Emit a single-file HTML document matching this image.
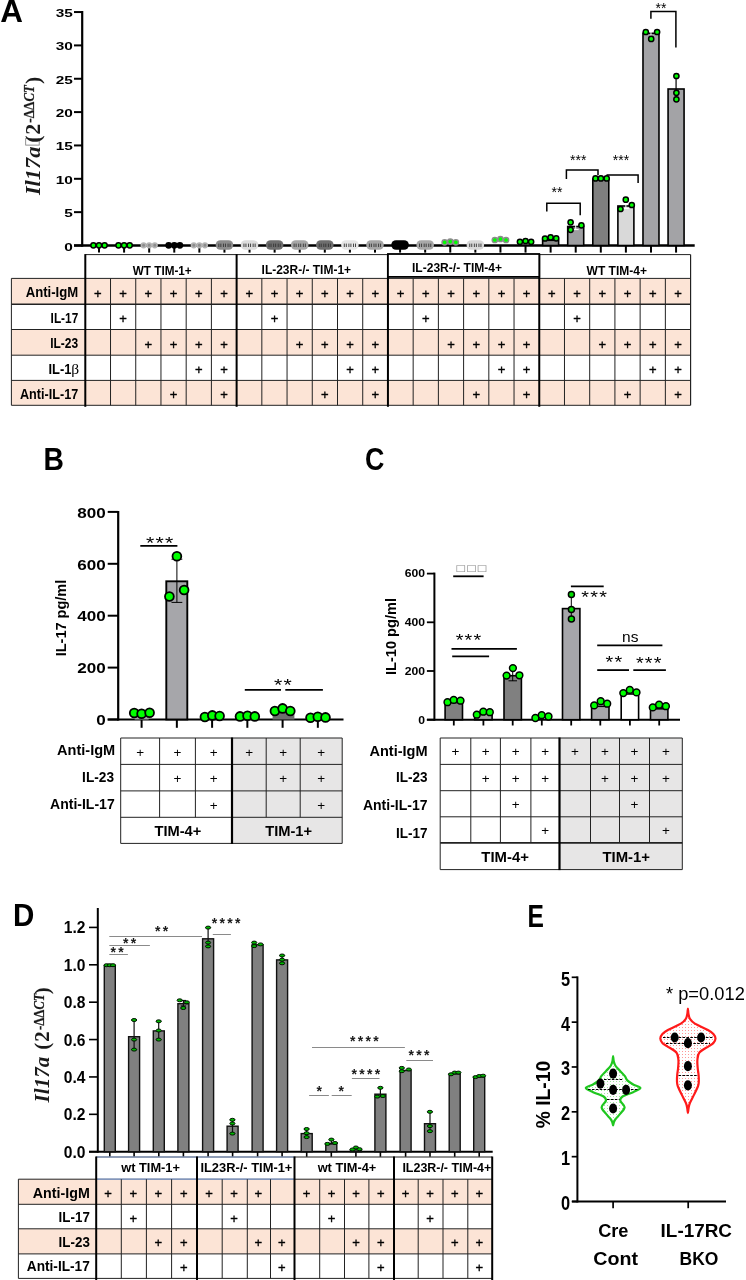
<!DOCTYPE html>
<html><head><meta charset="utf-8"><title>Figure</title>
<style>html,body{margin:0;padding:0;background:#fff}svg{display:block}</style>
</head><body>
<svg width="746" height="1280" viewBox="0 0 746 1280">
<rect width="746" height="1280" fill="#fff"/>
<g id="panelA">
<text transform="translate(0.3,22)" font-family='"Liberation Sans", Arial, sans-serif' font-size="31.4" text-anchor="start" font-weight="bold" fill="#000">A</text>
<g transform="translate(39.7,195.1) rotate(-90)" font-family='"Liberation Serif", "DejaVu Serif", serif' font-weight="bold" font-style="italic" fill="#1a1a1a">
<text x="0" y="0" font-size="21.5" textLength="48.5" lengthAdjust="spacingAndGlyphs">Il17a</text>
<rect x="50" y="-14" width="6.5" height="13.5" fill="none" stroke="#777" stroke-width="0.8"/>
<text x="52.3" y="0" font-size="22" font-style="normal">(</text>
<text x="60.3" y="0" font-size="22" font-style="normal">2</text>
<text transform="translate(72.4,-6) scale(0.93,1)" font-size="14.2" font-style="normal" stroke="#1a1a1a" stroke-width="0.25">-ΔΔ</text>
<text transform="translate(93.6,-6) scale(0.9,1)" font-size="14.2" stroke="#1a1a1a" stroke-width="0.25">CT</text>
<text x="111" y="0" font-size="22" font-style="normal">)</text>
</g>
<line x1="82.2" y1="11" x2="82.2" y2="246.7" stroke="#000" stroke-width="2.2" />
<line x1="74" y1="245.5" x2="694.7" y2="245.5" stroke="#000" stroke-width="2.4" />
<line x1="74" y1="245.5" x2="82.2" y2="245.5" stroke="#000" stroke-width="2" />
<text transform="translate(72.8,250.5) scale(1.33,1)" font-family='"Liberation Sans", Arial, sans-serif' font-size="11.6" text-anchor="end" font-weight="bold" fill="#000">0</text>
<line x1="74" y1="212.15" x2="82.2" y2="212.15" stroke="#000" stroke-width="2" />
<text transform="translate(72.8,217.15) scale(1.33,1)" font-family='"Liberation Sans", Arial, sans-serif' font-size="11.6" text-anchor="end" font-weight="bold" fill="#000">5</text>
<line x1="74" y1="178.8" x2="82.2" y2="178.8" stroke="#000" stroke-width="2" />
<text transform="translate(72.8,183.8) scale(1.33,1)" font-family='"Liberation Sans", Arial, sans-serif' font-size="11.6" text-anchor="end" font-weight="bold" fill="#000">10</text>
<line x1="74" y1="145.45" x2="82.2" y2="145.45" stroke="#000" stroke-width="2" />
<text transform="translate(72.8,150.45) scale(1.33,1)" font-family='"Liberation Sans", Arial, sans-serif' font-size="11.6" text-anchor="end" font-weight="bold" fill="#000">15</text>
<line x1="74" y1="112.1" x2="82.2" y2="112.1" stroke="#000" stroke-width="2" />
<text transform="translate(72.8,117.1) scale(1.33,1)" font-family='"Liberation Sans", Arial, sans-serif' font-size="11.6" text-anchor="end" font-weight="bold" fill="#000">20</text>
<line x1="74" y1="78.75" x2="82.2" y2="78.75" stroke="#000" stroke-width="2" />
<text transform="translate(72.8,83.75) scale(1.33,1)" font-family='"Liberation Sans", Arial, sans-serif' font-size="11.6" text-anchor="end" font-weight="bold" fill="#000">25</text>
<line x1="74" y1="45.4" x2="82.2" y2="45.4" stroke="#000" stroke-width="2" />
<text transform="translate(72.8,50.4) scale(1.33,1)" font-family='"Liberation Sans", Arial, sans-serif' font-size="11.6" text-anchor="end" font-weight="bold" fill="#000">30</text>
<line x1="74" y1="12.05" x2="82.2" y2="12.05" stroke="#000" stroke-width="2" />
<text transform="translate(72.8,17.05) scale(1.33,1)" font-family='"Liberation Sans", Arial, sans-serif' font-size="11.6" text-anchor="end" font-weight="bold" fill="#000">35</text>
<line x1="99" y1="245.5" x2="99" y2="252.6" stroke="#000" stroke-width="2" />
<line x1="124.09" y1="245.5" x2="124.09" y2="252.6" stroke="#000" stroke-width="2" />
<line x1="149.18" y1="245.5" x2="149.18" y2="252.6" stroke="#000" stroke-width="2" />
<line x1="174.27" y1="245.5" x2="174.27" y2="252.6" stroke="#000" stroke-width="2" />
<line x1="199.36" y1="245.5" x2="199.36" y2="252.6" stroke="#000" stroke-width="2" />
<line x1="224.45" y1="245.5" x2="224.45" y2="252.6" stroke="#000" stroke-width="2" />
<line x1="249.54" y1="245.5" x2="249.54" y2="252.6" stroke="#000" stroke-width="2" />
<line x1="274.63" y1="245.5" x2="274.63" y2="252.6" stroke="#000" stroke-width="2" />
<line x1="299.72" y1="245.5" x2="299.72" y2="252.6" stroke="#000" stroke-width="2" />
<line x1="324.81" y1="245.5" x2="324.81" y2="252.6" stroke="#000" stroke-width="2" />
<line x1="349.9" y1="245.5" x2="349.9" y2="252.6" stroke="#000" stroke-width="2" />
<line x1="374.99" y1="245.5" x2="374.99" y2="252.6" stroke="#000" stroke-width="2" />
<line x1="400.08" y1="245.5" x2="400.08" y2="252.6" stroke="#000" stroke-width="2" />
<line x1="425.17" y1="245.5" x2="425.17" y2="252.6" stroke="#000" stroke-width="2" />
<line x1="450.26" y1="245.5" x2="450.26" y2="252.6" stroke="#000" stroke-width="2" />
<line x1="475.35" y1="245.5" x2="475.35" y2="252.6" stroke="#000" stroke-width="2" />
<line x1="500.44" y1="245.5" x2="500.44" y2="252.6" stroke="#000" stroke-width="2" />
<line x1="525.53" y1="245.5" x2="525.53" y2="252.6" stroke="#000" stroke-width="2" />
<line x1="550.62" y1="245.5" x2="550.62" y2="252.6" stroke="#000" stroke-width="2" />
<line x1="575.71" y1="245.5" x2="575.71" y2="252.6" stroke="#000" stroke-width="2" />
<line x1="600.8" y1="245.5" x2="600.8" y2="252.6" stroke="#000" stroke-width="2" />
<line x1="625.89" y1="245.5" x2="625.89" y2="252.6" stroke="#000" stroke-width="2" />
<line x1="650.98" y1="245.5" x2="650.98" y2="252.6" stroke="#000" stroke-width="2" />
<line x1="676.07" y1="245.5" x2="676.07" y2="252.6" stroke="#000" stroke-width="2" />
<rect x="542.62" y="240.3" width="16" height="5.2" fill="#8a8a8a" stroke="#000" stroke-width="1.6" />
<rect x="567.71" y="226.5" width="16" height="19" fill="#9d9da0" stroke="#000" stroke-width="1.6" />
<rect x="592.8" y="178.9" width="16" height="66.6" fill="#7f7f7f" stroke="#000" stroke-width="1.6" />
<rect x="617.89" y="206" width="16" height="39.5" fill="#d9d9d9" stroke="#000" stroke-width="1.6" />
<rect x="642.98" y="33.3" width="16" height="212.2" fill="#a3a3a6" stroke="#000" stroke-width="1.6" />
<rect x="668.07" y="89" width="16" height="156.5" fill="#a3a3a6" stroke="#000" stroke-width="1.6" />
<line x1="575.71" y1="222.3" x2="575.71" y2="229.8" stroke="#fff" stroke-width="1" />
<line x1="572.71" y1="222.5" x2="578.71" y2="222.5" stroke="#fff" stroke-width="1" />
<line x1="572.71" y1="229.6" x2="578.71" y2="229.6" stroke="#fff" stroke-width="1" />
<line x1="625.89" y1="199.7" x2="625.89" y2="209" stroke="#fff" stroke-width="1" />
<line x1="622.89" y1="200" x2="628.89" y2="200" stroke="#fff" stroke-width="1" />
<line x1="622.89" y1="208.6" x2="628.89" y2="208.6" stroke="#fff" stroke-width="1" />
<line x1="650.98" y1="31" x2="650.98" y2="36" stroke="#fff" stroke-width="1" />
<line x1="676.07" y1="76" x2="676.07" y2="99" stroke="#000" stroke-width="1.2" />
<rect x="215.65" y="240.2" width="17.6" height="9.6" fill="#8c8c8c" stroke="none" stroke-width="0" rx="4.8"/>
<line x1="218.85" y1="243.6" x2="218.85" y2="247" stroke="#333" stroke-width="0.9" />
<line x1="220.85" y1="243.6" x2="220.85" y2="247" stroke="#333" stroke-width="0.9" />
<line x1="223.45" y1="243.6" x2="223.45" y2="247" stroke="#333" stroke-width="0.9" />
<line x1="225.45" y1="243.6" x2="225.45" y2="247" stroke="#333" stroke-width="0.9" />
<line x1="228.05" y1="243.6" x2="228.05" y2="247" stroke="#333" stroke-width="0.9" />
<line x1="230.05" y1="243.6" x2="230.05" y2="247" stroke="#333" stroke-width="0.9" />
<rect x="240.74" y="240.2" width="17.6" height="9.6" fill="#dcdcdc" stroke="none" stroke-width="0" rx="4.8"/>
<line x1="243.94" y1="243.6" x2="243.94" y2="247" stroke="#333" stroke-width="0.9" />
<line x1="245.94" y1="243.6" x2="245.94" y2="247" stroke="#333" stroke-width="0.9" />
<line x1="248.54" y1="243.6" x2="248.54" y2="247" stroke="#333" stroke-width="0.9" />
<line x1="250.54" y1="243.6" x2="250.54" y2="247" stroke="#333" stroke-width="0.9" />
<line x1="253.14" y1="243.6" x2="253.14" y2="247" stroke="#333" stroke-width="0.9" />
<line x1="255.14" y1="243.6" x2="255.14" y2="247" stroke="#333" stroke-width="0.9" />
<rect x="265.83" y="240.2" width="17.6" height="9.6" fill="#6e6e6e" stroke="none" stroke-width="0" rx="4.8"/>
<line x1="269.03" y1="243.6" x2="269.03" y2="247" stroke="#333" stroke-width="0.9" />
<line x1="271.03" y1="243.6" x2="271.03" y2="247" stroke="#333" stroke-width="0.9" />
<line x1="273.63" y1="243.6" x2="273.63" y2="247" stroke="#333" stroke-width="0.9" />
<line x1="275.63" y1="243.6" x2="275.63" y2="247" stroke="#333" stroke-width="0.9" />
<line x1="278.23" y1="243.6" x2="278.23" y2="247" stroke="#333" stroke-width="0.9" />
<line x1="280.23" y1="243.6" x2="280.23" y2="247" stroke="#333" stroke-width="0.9" />
<rect x="290.92" y="240.2" width="17.6" height="9.6" fill="#a6a6a6" stroke="none" stroke-width="0" rx="4.8"/>
<line x1="294.12" y1="243.6" x2="294.12" y2="247" stroke="#333" stroke-width="0.9" />
<line x1="296.12" y1="243.6" x2="296.12" y2="247" stroke="#333" stroke-width="0.9" />
<line x1="298.72" y1="243.6" x2="298.72" y2="247" stroke="#333" stroke-width="0.9" />
<line x1="300.72" y1="243.6" x2="300.72" y2="247" stroke="#333" stroke-width="0.9" />
<line x1="303.32" y1="243.6" x2="303.32" y2="247" stroke="#333" stroke-width="0.9" />
<line x1="305.32" y1="243.6" x2="305.32" y2="247" stroke="#333" stroke-width="0.9" />
<rect x="316.01" y="240.2" width="17.6" height="9.6" fill="#6e6e6e" stroke="none" stroke-width="0" rx="4.8"/>
<line x1="319.21" y1="243.6" x2="319.21" y2="247" stroke="#333" stroke-width="0.9" />
<line x1="321.21" y1="243.6" x2="321.21" y2="247" stroke="#333" stroke-width="0.9" />
<line x1="323.81" y1="243.6" x2="323.81" y2="247" stroke="#333" stroke-width="0.9" />
<line x1="325.81" y1="243.6" x2="325.81" y2="247" stroke="#333" stroke-width="0.9" />
<line x1="328.41" y1="243.6" x2="328.41" y2="247" stroke="#333" stroke-width="0.9" />
<line x1="330.41" y1="243.6" x2="330.41" y2="247" stroke="#333" stroke-width="0.9" />
<rect x="341.1" y="240.2" width="17.6" height="9.6" fill="#e6e6e6" stroke="none" stroke-width="0" rx="4.8"/>
<line x1="344.3" y1="243.6" x2="344.3" y2="247" stroke="#333" stroke-width="0.9" />
<line x1="346.3" y1="243.6" x2="346.3" y2="247" stroke="#333" stroke-width="0.9" />
<line x1="348.9" y1="243.6" x2="348.9" y2="247" stroke="#333" stroke-width="0.9" />
<line x1="350.9" y1="243.6" x2="350.9" y2="247" stroke="#333" stroke-width="0.9" />
<line x1="353.5" y1="243.6" x2="353.5" y2="247" stroke="#333" stroke-width="0.9" />
<line x1="355.5" y1="243.6" x2="355.5" y2="247" stroke="#333" stroke-width="0.9" />
<rect x="366.19" y="240.2" width="17.6" height="9.6" fill="#a6a6a6" stroke="none" stroke-width="0" rx="4.8"/>
<line x1="369.39" y1="243.6" x2="369.39" y2="247" stroke="#333" stroke-width="0.9" />
<line x1="371.39" y1="243.6" x2="371.39" y2="247" stroke="#333" stroke-width="0.9" />
<line x1="373.99" y1="243.6" x2="373.99" y2="247" stroke="#333" stroke-width="0.9" />
<line x1="375.99" y1="243.6" x2="375.99" y2="247" stroke="#333" stroke-width="0.9" />
<line x1="378.59" y1="243.6" x2="378.59" y2="247" stroke="#333" stroke-width="0.9" />
<line x1="380.59" y1="243.6" x2="380.59" y2="247" stroke="#333" stroke-width="0.9" />
<rect x="391.28" y="240.2" width="17.6" height="9.6" fill="#000" stroke="none" stroke-width="0" rx="4.8"/>
<line x1="394.48" y1="243.6" x2="394.48" y2="247" stroke="#000" stroke-width="0.9" />
<line x1="396.48" y1="243.6" x2="396.48" y2="247" stroke="#000" stroke-width="0.9" />
<line x1="399.08" y1="243.6" x2="399.08" y2="247" stroke="#000" stroke-width="0.9" />
<line x1="401.08" y1="243.6" x2="401.08" y2="247" stroke="#000" stroke-width="0.9" />
<line x1="403.68" y1="243.6" x2="403.68" y2="247" stroke="#000" stroke-width="0.9" />
<line x1="405.68" y1="243.6" x2="405.68" y2="247" stroke="#000" stroke-width="0.9" />
<rect x="416.37" y="240.2" width="17.6" height="9.6" fill="#a8a8a8" stroke="none" stroke-width="0" rx="4.8"/>
<line x1="419.57" y1="243.6" x2="419.57" y2="247" stroke="#333" stroke-width="0.9" />
<line x1="421.57" y1="243.6" x2="421.57" y2="247" stroke="#333" stroke-width="0.9" />
<line x1="424.17" y1="243.6" x2="424.17" y2="247" stroke="#333" stroke-width="0.9" />
<line x1="426.17" y1="243.6" x2="426.17" y2="247" stroke="#333" stroke-width="0.9" />
<line x1="428.77" y1="243.6" x2="428.77" y2="247" stroke="#333" stroke-width="0.9" />
<line x1="430.77" y1="243.6" x2="430.77" y2="247" stroke="#333" stroke-width="0.9" />
<rect x="466.55" y="240.2" width="17.6" height="9.6" fill="#d9d9d9" stroke="none" stroke-width="0" rx="4.8"/>
<line x1="469.75" y1="243.6" x2="469.75" y2="247" stroke="#333" stroke-width="0.9" />
<line x1="471.75" y1="243.6" x2="471.75" y2="247" stroke="#333" stroke-width="0.9" />
<line x1="474.35" y1="243.6" x2="474.35" y2="247" stroke="#333" stroke-width="0.9" />
<line x1="476.35" y1="243.6" x2="476.35" y2="247" stroke="#333" stroke-width="0.9" />
<line x1="478.95" y1="243.6" x2="478.95" y2="247" stroke="#333" stroke-width="0.9" />
<line x1="480.95" y1="243.6" x2="480.95" y2="247" stroke="#333" stroke-width="0.9" />
<circle cx="93.4" cy="245.3" r="2.6" fill="#00ff00" stroke="#000" stroke-width="1.5"/>
<circle cx="99" cy="245.3" r="2.6" fill="#00ff00" stroke="#000" stroke-width="1.5"/>
<circle cx="104.6" cy="245.3" r="2.6" fill="#00ff00" stroke="#000" stroke-width="1.5"/>
<circle cx="118.49" cy="245.3" r="2.6" fill="#00ff00" stroke="#000" stroke-width="1.5"/>
<circle cx="124.09" cy="245.3" r="2.6" fill="#00ff00" stroke="#000" stroke-width="1.5"/>
<circle cx="129.69" cy="245.3" r="2.6" fill="#00ff00" stroke="#000" stroke-width="1.5"/>
<circle cx="143.58" cy="245.3" r="2.3" fill="#8c8c8c" stroke="#b4b4b4" stroke-width="1.6"/>
<circle cx="149.18" cy="245.3" r="2.3" fill="#8c8c8c" stroke="#b4b4b4" stroke-width="1.6"/>
<circle cx="154.78" cy="245.3" r="2.3" fill="#8c8c8c" stroke="#b4b4b4" stroke-width="1.6"/>
<circle cx="168.67" cy="245.3" r="2.6" fill="#000" stroke="#000" stroke-width="1.6"/>
<circle cx="174.27" cy="245.3" r="2.6" fill="#000" stroke="#000" stroke-width="1.6"/>
<circle cx="179.87" cy="245.3" r="2.6" fill="#000" stroke="#000" stroke-width="1.6"/>
<circle cx="193.76" cy="245.3" r="2.3" fill="#8c8c8c" stroke="#b4b4b4" stroke-width="1.6"/>
<circle cx="199.36" cy="245.3" r="2.3" fill="#8c8c8c" stroke="#b4b4b4" stroke-width="1.6"/>
<circle cx="204.96" cy="245.3" r="2.3" fill="#8c8c8c" stroke="#b4b4b4" stroke-width="1.6"/>
<circle cx="444.66" cy="242.3" r="2.6" fill="#00ff00" stroke="#8c8c8c" stroke-width="1.5"/>
<circle cx="450.26" cy="241.6" r="2.6" fill="#00ff00" stroke="#8c8c8c" stroke-width="1.5"/>
<circle cx="455.86" cy="242.3" r="2.6" fill="#00ff00" stroke="#8c8c8c" stroke-width="1.5"/>
<circle cx="494.84" cy="240" r="2.6" fill="#00ff00" stroke="#8c8c8c" stroke-width="1.5"/>
<circle cx="500.44" cy="239" r="2.6" fill="#00ff00" stroke="#8c8c8c" stroke-width="1.5"/>
<circle cx="506.04" cy="240" r="2.6" fill="#00ff00" stroke="#8c8c8c" stroke-width="1.5"/>
<circle cx="519.93" cy="241.8" r="2.6" fill="#00ff00" stroke="#000" stroke-width="1.5"/>
<circle cx="525.53" cy="241" r="2.6" fill="#00ff00" stroke="#000" stroke-width="1.5"/>
<circle cx="531.13" cy="241.8" r="2.6" fill="#00ff00" stroke="#000" stroke-width="1.5"/>
<circle cx="545.02" cy="238.5" r="2.6" fill="#00ff00" stroke="#000" stroke-width="1.5"/>
<circle cx="550.62" cy="237.3" r="2.6" fill="#00ff00" stroke="#000" stroke-width="1.5"/>
<circle cx="556.22" cy="238.3" r="2.6" fill="#00ff00" stroke="#000" stroke-width="1.5"/>
<circle cx="570.6" cy="222.3" r="2.6" fill="#00ff00" stroke="#000" stroke-width="1.5"/>
<circle cx="581.4" cy="225.3" r="2.6" fill="#00ff00" stroke="#000" stroke-width="1.5"/>
<circle cx="570.6" cy="229.8" r="2.6" fill="#00ff00" stroke="#000" stroke-width="1.5"/>
<circle cx="595.5" cy="178.4" r="2.6" fill="#00ff00" stroke="#000" stroke-width="1.5"/>
<circle cx="600.9" cy="178.4" r="2.6" fill="#00ff00" stroke="#000" stroke-width="1.5"/>
<circle cx="606.7" cy="178.4" r="2.6" fill="#00ff00" stroke="#000" stroke-width="1.5"/>
<circle cx="625.8" cy="199.7" r="2.6" fill="#00ff00" stroke="#000" stroke-width="1.5"/>
<circle cx="631.8" cy="205" r="2.6" fill="#00ff00" stroke="#000" stroke-width="1.5"/>
<circle cx="620.5" cy="209" r="2.6" fill="#00ff00" stroke="#000" stroke-width="1.5"/>
<circle cx="645.8" cy="32" r="2.6" fill="#00ff00" stroke="#000" stroke-width="1.5"/>
<circle cx="657.1" cy="32" r="2.6" fill="#00ff00" stroke="#000" stroke-width="1.5"/>
<circle cx="651.2" cy="38.9" r="2.6" fill="#00ff00" stroke="#000" stroke-width="1.5"/>
<circle cx="676.4" cy="76" r="2.6" fill="#00ff00" stroke="#000" stroke-width="1.5"/>
<circle cx="676.4" cy="92.8" r="2.6" fill="#00ff00" stroke="#000" stroke-width="1.5"/>
<circle cx="676.4" cy="99.3" r="2.6" fill="#00ff00" stroke="#000" stroke-width="1.5"/>
<polyline points="546.8,211.5 546.8,203.2 580.2,203.2 580.2,215.2" fill="none" stroke="#000" stroke-width="1.5" />
<polyline points="566.4,178.9 566.4,170.1 598,170.1 598,175" fill="none" stroke="#000" stroke-width="1.5" />
<polyline points="606.5,175.1 638.1,175.1 638.1,183.1" fill="none" stroke="#000" stroke-width="1.5" />
<polyline points="650.9,18.8 650.9,11.5 675.9,11.5 675.9,47.6" fill="none" stroke="#000" stroke-width="1.5" />
<text transform="translate(556.9,197)" font-family='"Liberation Sans", Arial, sans-serif' font-size="14" text-anchor="middle" font-weight="normal" fill="#000">**</text>
<text transform="translate(578.2,165)" font-family='"Liberation Sans", Arial, sans-serif' font-size="14" text-anchor="middle" font-weight="normal" fill="#000">***</text>
<text transform="translate(621,165)" font-family='"Liberation Sans", Arial, sans-serif' font-size="14" text-anchor="middle" font-weight="normal" fill="#000">***</text>
<text transform="translate(660.9,13)" font-family='"Liberation Sans", Arial, sans-serif' font-size="14" text-anchor="middle" font-weight="normal" fill="#000">**</text>
<rect x="11.4" y="278.4" width="679.18" height="25.9" fill="#fce4d6" stroke="none" stroke-width="1" />
<rect x="11.4" y="329.5" width="679.18" height="25.7" fill="#fce4d6" stroke="none" stroke-width="1" />
<rect x="11.4" y="380.4" width="679.18" height="24.9" fill="#fce4d6" stroke="none" stroke-width="1" />
<line x1="11.4" y1="278.4" x2="690.58" y2="278.4" stroke="#222" stroke-width="1" />
<line x1="11.4" y1="304.3" x2="690.58" y2="304.3" stroke="#222" stroke-width="1.5" />
<line x1="11.4" y1="329.5" x2="690.58" y2="329.5" stroke="#222" stroke-width="1" />
<line x1="11.4" y1="355.2" x2="690.58" y2="355.2" stroke="#222" stroke-width="1" />
<line x1="11.4" y1="380.4" x2="690.58" y2="380.4" stroke="#222" stroke-width="1" />
<line x1="11.4" y1="405.3" x2="690.58" y2="405.3" stroke="#222" stroke-width="1" />
<line x1="85.3" y1="254.6" x2="690.58" y2="254.6" stroke="#222" stroke-width="1" />
<line x1="11.4" y1="278.4" x2="11.4" y2="405.3" stroke="#222" stroke-width="1" />
<line x1="85.3" y1="254.1" x2="85.3" y2="406.8" stroke="#000" stroke-width="2" />
<line x1="110.52" y1="278.4" x2="110.52" y2="405.3" stroke="#222" stroke-width="1" />
<line x1="135.74" y1="278.4" x2="135.74" y2="405.3" stroke="#222" stroke-width="1" />
<line x1="160.96" y1="278.4" x2="160.96" y2="405.3" stroke="#222" stroke-width="1" />
<line x1="186.18" y1="278.4" x2="186.18" y2="405.3" stroke="#222" stroke-width="1" />
<line x1="211.4" y1="278.4" x2="211.4" y2="405.3" stroke="#222" stroke-width="1" />
<line x1="236.62" y1="254.1" x2="236.62" y2="406.8" stroke="#000" stroke-width="2" />
<line x1="261.84" y1="278.4" x2="261.84" y2="405.3" stroke="#222" stroke-width="1" />
<line x1="287.06" y1="278.4" x2="287.06" y2="405.3" stroke="#222" stroke-width="1" />
<line x1="312.28" y1="278.4" x2="312.28" y2="405.3" stroke="#222" stroke-width="1" />
<line x1="337.5" y1="278.4" x2="337.5" y2="405.3" stroke="#222" stroke-width="1" />
<line x1="362.72" y1="278.4" x2="362.72" y2="405.3" stroke="#222" stroke-width="1" />
<line x1="387.94" y1="254.1" x2="387.94" y2="406.8" stroke="#000" stroke-width="2" />
<line x1="413.16" y1="278.4" x2="413.16" y2="405.3" stroke="#222" stroke-width="1" />
<line x1="438.38" y1="278.4" x2="438.38" y2="405.3" stroke="#222" stroke-width="1" />
<line x1="463.6" y1="278.4" x2="463.6" y2="405.3" stroke="#222" stroke-width="1" />
<line x1="488.82" y1="278.4" x2="488.82" y2="405.3" stroke="#222" stroke-width="1" />
<line x1="514.04" y1="278.4" x2="514.04" y2="405.3" stroke="#222" stroke-width="1" />
<line x1="539.26" y1="254.1" x2="539.26" y2="406.8" stroke="#000" stroke-width="2" />
<line x1="564.48" y1="278.4" x2="564.48" y2="405.3" stroke="#222" stroke-width="1" />
<line x1="589.7" y1="278.4" x2="589.7" y2="405.3" stroke="#222" stroke-width="1" />
<line x1="614.92" y1="278.4" x2="614.92" y2="405.3" stroke="#222" stroke-width="1" />
<line x1="640.14" y1="278.4" x2="640.14" y2="405.3" stroke="#222" stroke-width="1" />
<line x1="665.36" y1="278.4" x2="665.36" y2="405.3" stroke="#222" stroke-width="1" />
<line x1="690.58" y1="254.6" x2="690.58" y2="405.3" stroke="#222" stroke-width="1.2" />
<rect x="387.94" y="254" width="151.32" height="22.9" fill="#fff" stroke="#000" stroke-width="1.8" />
<text transform="translate(78.2,297.05)" font-family='"Liberation Sans", Arial, sans-serif' font-size="13.9" text-anchor="end" font-weight="bold" fill="#000" textLength="52.5" lengthAdjust="spacingAndGlyphs">Anti-IgM</text>
<text transform="translate(78.2,322.6)" font-family='"Liberation Sans", Arial, sans-serif' font-size="13.9" text-anchor="end" font-weight="bold" fill="#000" textLength="27.6" lengthAdjust="spacingAndGlyphs">IL-17</text>
<text transform="translate(78.2,348.05)" font-family='"Liberation Sans", Arial, sans-serif' font-size="13.9" text-anchor="end" font-weight="bold" fill="#000" textLength="28" lengthAdjust="spacingAndGlyphs">IL-23</text>
<text transform="translate(71.5,373.5) scale(0.93,1)" font-family='"Liberation Sans", Arial, sans-serif' font-size="13.9" font-weight="bold" text-anchor="end">IL-1</text><text x="71.2" y="373.5" font-family='"Liberation Serif", "DejaVu Serif", serif' font-size="15.5">β</text>
<text transform="translate(78.2,398.55)" font-family='"Liberation Sans", Arial, sans-serif' font-size="13.9" text-anchor="end" font-weight="bold" fill="#000" textLength="58.3" lengthAdjust="spacingAndGlyphs">Anti-IL-17</text>
<text transform="translate(162.2,274.5)" font-family='"Liberation Sans", Arial, sans-serif' font-size="12.4" text-anchor="middle" font-weight="bold" fill="#000" textLength="58.9" lengthAdjust="spacingAndGlyphs">WT TIM-1+</text>
<text transform="translate(306.3,274)" font-family='"Liberation Sans", Arial, sans-serif' font-size="12.4" text-anchor="middle" font-weight="bold" fill="#000" textLength="89.5" lengthAdjust="spacingAndGlyphs">IL-23R-/- TIM-1+</text>
<text transform="translate(457,271.8)" font-family='"Liberation Sans", Arial, sans-serif' font-size="12.4" text-anchor="middle" font-weight="bold" fill="#000" textLength="90" lengthAdjust="spacingAndGlyphs">IL-23R-/- TIM-4+</text>
<text transform="translate(616.8,274.6)" font-family='"Liberation Sans", Arial, sans-serif' font-size="12.4" text-anchor="middle" font-weight="bold" fill="#000" textLength="60.5" lengthAdjust="spacingAndGlyphs">WT TIM-4+</text>
<text x="97.91" y="297.65" font-family='"Liberation Sans", Arial, sans-serif' font-size="13" text-anchor="middle" stroke="#000" stroke-width="0.35">+</text>
<text x="123.13" y="297.65" font-family='"Liberation Sans", Arial, sans-serif' font-size="13" text-anchor="middle" stroke="#000" stroke-width="0.35">+</text>
<text x="148.35" y="297.65" font-family='"Liberation Sans", Arial, sans-serif' font-size="13" text-anchor="middle" stroke="#000" stroke-width="0.35">+</text>
<text x="173.57" y="297.65" font-family='"Liberation Sans", Arial, sans-serif' font-size="13" text-anchor="middle" stroke="#000" stroke-width="0.35">+</text>
<text x="198.79" y="297.65" font-family='"Liberation Sans", Arial, sans-serif' font-size="13" text-anchor="middle" stroke="#000" stroke-width="0.35">+</text>
<text x="224.01" y="297.65" font-family='"Liberation Sans", Arial, sans-serif' font-size="13" text-anchor="middle" stroke="#000" stroke-width="0.35">+</text>
<text x="249.23" y="297.65" font-family='"Liberation Sans", Arial, sans-serif' font-size="13" text-anchor="middle" stroke="#000" stroke-width="0.35">+</text>
<text x="274.45" y="297.65" font-family='"Liberation Sans", Arial, sans-serif' font-size="13" text-anchor="middle" stroke="#000" stroke-width="0.35">+</text>
<text x="299.67" y="297.65" font-family='"Liberation Sans", Arial, sans-serif' font-size="13" text-anchor="middle" stroke="#000" stroke-width="0.35">+</text>
<text x="324.89" y="297.65" font-family='"Liberation Sans", Arial, sans-serif' font-size="13" text-anchor="middle" stroke="#000" stroke-width="0.35">+</text>
<text x="350.11" y="297.65" font-family='"Liberation Sans", Arial, sans-serif' font-size="13" text-anchor="middle" stroke="#000" stroke-width="0.35">+</text>
<text x="375.33" y="297.65" font-family='"Liberation Sans", Arial, sans-serif' font-size="13" text-anchor="middle" stroke="#000" stroke-width="0.35">+</text>
<text x="400.55" y="297.65" font-family='"Liberation Sans", Arial, sans-serif' font-size="13" text-anchor="middle" stroke="#000" stroke-width="0.35">+</text>
<text x="425.77" y="297.65" font-family='"Liberation Sans", Arial, sans-serif' font-size="13" text-anchor="middle" stroke="#000" stroke-width="0.35">+</text>
<text x="450.99" y="297.65" font-family='"Liberation Sans", Arial, sans-serif' font-size="13" text-anchor="middle" stroke="#000" stroke-width="0.35">+</text>
<text x="476.21" y="297.65" font-family='"Liberation Sans", Arial, sans-serif' font-size="13" text-anchor="middle" stroke="#000" stroke-width="0.35">+</text>
<text x="501.43" y="297.65" font-family='"Liberation Sans", Arial, sans-serif' font-size="13" text-anchor="middle" stroke="#000" stroke-width="0.35">+</text>
<text x="526.65" y="297.65" font-family='"Liberation Sans", Arial, sans-serif' font-size="13" text-anchor="middle" stroke="#000" stroke-width="0.35">+</text>
<text x="551.87" y="297.65" font-family='"Liberation Sans", Arial, sans-serif' font-size="13" text-anchor="middle" stroke="#000" stroke-width="0.35">+</text>
<text x="577.09" y="297.65" font-family='"Liberation Sans", Arial, sans-serif' font-size="13" text-anchor="middle" stroke="#000" stroke-width="0.35">+</text>
<text x="602.31" y="297.65" font-family='"Liberation Sans", Arial, sans-serif' font-size="13" text-anchor="middle" stroke="#000" stroke-width="0.35">+</text>
<text x="627.53" y="297.65" font-family='"Liberation Sans", Arial, sans-serif' font-size="13" text-anchor="middle" stroke="#000" stroke-width="0.35">+</text>
<text x="652.75" y="297.65" font-family='"Liberation Sans", Arial, sans-serif' font-size="13" text-anchor="middle" stroke="#000" stroke-width="0.35">+</text>
<text x="677.97" y="297.65" font-family='"Liberation Sans", Arial, sans-serif' font-size="13" text-anchor="middle" stroke="#000" stroke-width="0.35">+</text>
<text x="123.13" y="323.2" font-family='"Liberation Sans", Arial, sans-serif' font-size="13" text-anchor="middle" stroke="#000" stroke-width="0.35">+</text>
<text x="274.45" y="323.2" font-family='"Liberation Sans", Arial, sans-serif' font-size="13" text-anchor="middle" stroke="#000" stroke-width="0.35">+</text>
<text x="425.77" y="323.2" font-family='"Liberation Sans", Arial, sans-serif' font-size="13" text-anchor="middle" stroke="#000" stroke-width="0.35">+</text>
<text x="577.09" y="323.2" font-family='"Liberation Sans", Arial, sans-serif' font-size="13" text-anchor="middle" stroke="#000" stroke-width="0.35">+</text>
<text x="148.35" y="348.65" font-family='"Liberation Sans", Arial, sans-serif' font-size="13" text-anchor="middle" stroke="#000" stroke-width="0.35">+</text>
<text x="173.57" y="348.65" font-family='"Liberation Sans", Arial, sans-serif' font-size="13" text-anchor="middle" stroke="#000" stroke-width="0.35">+</text>
<text x="198.79" y="348.65" font-family='"Liberation Sans", Arial, sans-serif' font-size="13" text-anchor="middle" stroke="#000" stroke-width="0.35">+</text>
<text x="224.01" y="348.65" font-family='"Liberation Sans", Arial, sans-serif' font-size="13" text-anchor="middle" stroke="#000" stroke-width="0.35">+</text>
<text x="299.67" y="348.65" font-family='"Liberation Sans", Arial, sans-serif' font-size="13" text-anchor="middle" stroke="#000" stroke-width="0.35">+</text>
<text x="324.89" y="348.65" font-family='"Liberation Sans", Arial, sans-serif' font-size="13" text-anchor="middle" stroke="#000" stroke-width="0.35">+</text>
<text x="350.11" y="348.65" font-family='"Liberation Sans", Arial, sans-serif' font-size="13" text-anchor="middle" stroke="#000" stroke-width="0.35">+</text>
<text x="375.33" y="348.65" font-family='"Liberation Sans", Arial, sans-serif' font-size="13" text-anchor="middle" stroke="#000" stroke-width="0.35">+</text>
<text x="450.99" y="348.65" font-family='"Liberation Sans", Arial, sans-serif' font-size="13" text-anchor="middle" stroke="#000" stroke-width="0.35">+</text>
<text x="476.21" y="348.65" font-family='"Liberation Sans", Arial, sans-serif' font-size="13" text-anchor="middle" stroke="#000" stroke-width="0.35">+</text>
<text x="501.43" y="348.65" font-family='"Liberation Sans", Arial, sans-serif' font-size="13" text-anchor="middle" stroke="#000" stroke-width="0.35">+</text>
<text x="526.65" y="348.65" font-family='"Liberation Sans", Arial, sans-serif' font-size="13" text-anchor="middle" stroke="#000" stroke-width="0.35">+</text>
<text x="602.31" y="348.65" font-family='"Liberation Sans", Arial, sans-serif' font-size="13" text-anchor="middle" stroke="#000" stroke-width="0.35">+</text>
<text x="627.53" y="348.65" font-family='"Liberation Sans", Arial, sans-serif' font-size="13" text-anchor="middle" stroke="#000" stroke-width="0.35">+</text>
<text x="652.75" y="348.65" font-family='"Liberation Sans", Arial, sans-serif' font-size="13" text-anchor="middle" stroke="#000" stroke-width="0.35">+</text>
<text x="677.97" y="348.65" font-family='"Liberation Sans", Arial, sans-serif' font-size="13" text-anchor="middle" stroke="#000" stroke-width="0.35">+</text>
<text x="198.79" y="374.1" font-family='"Liberation Sans", Arial, sans-serif' font-size="13" text-anchor="middle" stroke="#000" stroke-width="0.35">+</text>
<text x="224.01" y="374.1" font-family='"Liberation Sans", Arial, sans-serif' font-size="13" text-anchor="middle" stroke="#000" stroke-width="0.35">+</text>
<text x="350.11" y="374.1" font-family='"Liberation Sans", Arial, sans-serif' font-size="13" text-anchor="middle" stroke="#000" stroke-width="0.35">+</text>
<text x="375.33" y="374.1" font-family='"Liberation Sans", Arial, sans-serif' font-size="13" text-anchor="middle" stroke="#000" stroke-width="0.35">+</text>
<text x="501.43" y="374.1" font-family='"Liberation Sans", Arial, sans-serif' font-size="13" text-anchor="middle" stroke="#000" stroke-width="0.35">+</text>
<text x="526.65" y="374.1" font-family='"Liberation Sans", Arial, sans-serif' font-size="13" text-anchor="middle" stroke="#000" stroke-width="0.35">+</text>
<text x="652.75" y="374.1" font-family='"Liberation Sans", Arial, sans-serif' font-size="13" text-anchor="middle" stroke="#000" stroke-width="0.35">+</text>
<text x="677.97" y="374.1" font-family='"Liberation Sans", Arial, sans-serif' font-size="13" text-anchor="middle" stroke="#000" stroke-width="0.35">+</text>
<text x="173.57" y="399.15" font-family='"Liberation Sans", Arial, sans-serif' font-size="13" text-anchor="middle" stroke="#000" stroke-width="0.35">+</text>
<text x="224.01" y="399.15" font-family='"Liberation Sans", Arial, sans-serif' font-size="13" text-anchor="middle" stroke="#000" stroke-width="0.35">+</text>
<text x="324.89" y="399.15" font-family='"Liberation Sans", Arial, sans-serif' font-size="13" text-anchor="middle" stroke="#000" stroke-width="0.35">+</text>
<text x="375.33" y="399.15" font-family='"Liberation Sans", Arial, sans-serif' font-size="13" text-anchor="middle" stroke="#000" stroke-width="0.35">+</text>
<text x="476.21" y="399.15" font-family='"Liberation Sans", Arial, sans-serif' font-size="13" text-anchor="middle" stroke="#000" stroke-width="0.35">+</text>
<text x="526.65" y="399.15" font-family='"Liberation Sans", Arial, sans-serif' font-size="13" text-anchor="middle" stroke="#000" stroke-width="0.35">+</text>
<text x="627.53" y="399.15" font-family='"Liberation Sans", Arial, sans-serif' font-size="13" text-anchor="middle" stroke="#000" stroke-width="0.35">+</text>
<text x="677.97" y="399.15" font-family='"Liberation Sans", Arial, sans-serif' font-size="13" text-anchor="middle" stroke="#000" stroke-width="0.35">+</text>
</g>
<g id="panelB">
<text transform="translate(43.4,469.7) scale(0.9,1)" font-family='"Liberation Sans", Arial, sans-serif' font-size="31.4" text-anchor="start" font-weight="bold" fill="#000">B</text>
<text transform="translate(66.3,618) rotate(-90)" font-family='"Liberation Sans", Arial, sans-serif' font-size="14.8" text-anchor="middle" font-weight="bold" fill="#000" textLength="76.6" lengthAdjust="spacingAndGlyphs">IL-17 pg/ml</text>
<line x1="118.2" y1="511" x2="118.2" y2="720.6" stroke="#000" stroke-width="2.2" />
<line x1="107.7" y1="719.5" x2="343.5" y2="719.5" stroke="#000" stroke-width="2.2" />
<line x1="107.7" y1="719.5" x2="118.2" y2="719.5" stroke="#000" stroke-width="2" />
<text transform="translate(105.8,725.2) scale(1.22,1)" font-family='"Liberation Sans", Arial, sans-serif' font-size="14" text-anchor="end" font-weight="bold" fill="#000">0</text>
<line x1="107.7" y1="667.6" x2="118.2" y2="667.6" stroke="#000" stroke-width="2" />
<text transform="translate(105.8,673.3) scale(1.22,1)" font-family='"Liberation Sans", Arial, sans-serif' font-size="14" text-anchor="end" font-weight="bold" fill="#000">200</text>
<line x1="107.7" y1="615.7" x2="118.2" y2="615.7" stroke="#000" stroke-width="2" />
<text transform="translate(105.8,621.4) scale(1.22,1)" font-family='"Liberation Sans", Arial, sans-serif' font-size="14" text-anchor="end" font-weight="bold" fill="#000">400</text>
<line x1="107.7" y1="563.8" x2="118.2" y2="563.8" stroke="#000" stroke-width="2" />
<text transform="translate(105.8,569.5) scale(1.22,1)" font-family='"Liberation Sans", Arial, sans-serif' font-size="14" text-anchor="end" font-weight="bold" fill="#000">600</text>
<line x1="107.7" y1="511.9" x2="118.2" y2="511.9" stroke="#000" stroke-width="2" />
<text transform="translate(105.8,517.6) scale(1.22,1)" font-family='"Liberation Sans", Arial, sans-serif' font-size="14" text-anchor="end" font-weight="bold" fill="#000">800</text>
<line x1="141.6" y1="719.5" x2="141.6" y2="727.8" stroke="#000" stroke-width="2" />
<line x1="176.85" y1="719.5" x2="176.85" y2="727.8" stroke="#000" stroke-width="2" />
<line x1="212.1" y1="719.5" x2="212.1" y2="727.8" stroke="#000" stroke-width="2" />
<line x1="247.35" y1="719.5" x2="247.35" y2="727.8" stroke="#000" stroke-width="2" />
<line x1="282.6" y1="719.5" x2="282.6" y2="727.8" stroke="#000" stroke-width="2" />
<line x1="317.85" y1="719.5" x2="317.85" y2="727.8" stroke="#000" stroke-width="2" />
<rect x="166.3" y="581.3" width="21" height="138.2" fill="#a6a6aa" stroke="#000" stroke-width="1.9" />
<rect x="134.6" y="714.5" width="14" height="5" fill="#a6a6aa" stroke="none" stroke-width="1" />
<path d="M272.6 719.5 L272.6 713.5 Q283 708 294.4 713.5 L294.4 719.5 Z" fill="#6e6e6e"/>
<line x1="176.9" y1="559" x2="176.9" y2="602.4" stroke="#000" stroke-width="1" />
<line x1="171.5" y1="602.4" x2="182.3" y2="602.4" stroke="#000" stroke-width="1" />
<line x1="171.5" y1="559.2" x2="182.3" y2="559.2" stroke="#000" stroke-width="1" />
<circle cx="176.9" cy="556.2" r="4.4" fill="#00ff00" stroke="#000" stroke-width="1.8"/>
<circle cx="184.1" cy="590" r="4.4" fill="#00ff00" stroke="#000" stroke-width="1.8"/>
<circle cx="169.4" cy="596.5" r="4.4" fill="#00ff00" stroke="#000" stroke-width="1.8"/>
<circle cx="134.2" cy="713" r="4.4" fill="#00ff00" stroke="#000" stroke-width="1.8"/>
<circle cx="141.6" cy="713.7" r="4.4" fill="#00ff00" stroke="#000" stroke-width="1.8"/>
<circle cx="149.6" cy="712.7" r="4.4" fill="#00ff00" stroke="#000" stroke-width="1.8"/>
<circle cx="204.9" cy="717" r="4.4" fill="#00ff00" stroke="#000" stroke-width="1.8"/>
<circle cx="212.3" cy="715.4" r="4.4" fill="#00ff00" stroke="#000" stroke-width="1.8"/>
<circle cx="219.6" cy="716" r="4.4" fill="#00ff00" stroke="#000" stroke-width="1.8"/>
<circle cx="240" cy="716.4" r="4.4" fill="#00ff00" stroke="#000" stroke-width="1.8"/>
<circle cx="247.5" cy="715.7" r="4.4" fill="#00ff00" stroke="#000" stroke-width="1.8"/>
<circle cx="254.8" cy="716.4" r="4.4" fill="#00ff00" stroke="#000" stroke-width="1.8"/>
<circle cx="274.9" cy="711" r="4.4" fill="#00ff00" stroke="#000" stroke-width="1.8"/>
<circle cx="282.6" cy="708.4" r="4.4" fill="#00ff00" stroke="#000" stroke-width="1.8"/>
<circle cx="290.3" cy="711" r="4.4" fill="#00ff00" stroke="#000" stroke-width="1.8"/>
<circle cx="310.5" cy="717.7" r="4.4" fill="#00ff00" stroke="#000" stroke-width="1.8"/>
<circle cx="317.8" cy="716.7" r="4.4" fill="#00ff00" stroke="#000" stroke-width="1.8"/>
<circle cx="325.5" cy="717.4" r="4.4" fill="#00ff00" stroke="#000" stroke-width="1.8"/>
<line x1="140.3" y1="545.9" x2="177.4" y2="545.9" stroke="#000" stroke-width="1.8" />
<text transform="translate(160.3,548.5) scale(1.25,1)" font-family='"Liberation Sans", Arial, sans-serif' font-size="17" text-anchor="middle" font-weight="normal" fill="#000" letter-spacing="1">***</text>
<line x1="244.8" y1="689.9" x2="281" y2="689.9" stroke="#000" stroke-width="1.8" />
<line x1="285.3" y1="689.9" x2="322.9" y2="689.9" stroke="#000" stroke-width="1.8" />
<text transform="translate(283.6,691) scale(1.25,1)" font-family='"Liberation Sans", Arial, sans-serif' font-size="17" text-anchor="middle" font-weight="normal" fill="#000" letter-spacing="1">**</text>
<rect x="232" y="738" width="110.2" height="105.4" fill="#e7e6e6" stroke="none" stroke-width="1" />
<line x1="120.7" y1="738" x2="342.2" y2="738" stroke="#222" stroke-width="1" />
<line x1="120.7" y1="764.4" x2="342.2" y2="764.4" stroke="#222" stroke-width="1" />
<line x1="120.7" y1="790.9" x2="342.2" y2="790.9" stroke="#222" stroke-width="1" />
<line x1="120.7" y1="817.3" x2="342.2" y2="817.3" stroke="#222" stroke-width="1" />
<line x1="120.7" y1="843.4" x2="342.2" y2="843.4" stroke="#222" stroke-width="1" />
<line x1="120.7" y1="738" x2="120.7" y2="843.4" stroke="#222" stroke-width="1" />
<line x1="159.6" y1="738" x2="159.6" y2="817.3" stroke="#222" stroke-width="1" />
<line x1="195.4" y1="738" x2="195.4" y2="817.3" stroke="#222" stroke-width="1" />
<line x1="232" y1="737.5" x2="232" y2="843.9" stroke="#000" stroke-width="2.2" />
<line x1="266.2" y1="738" x2="266.2" y2="817.3" stroke="#222" stroke-width="1" />
<line x1="300.2" y1="738" x2="300.2" y2="817.3" stroke="#222" stroke-width="1" />
<line x1="342.2" y1="738" x2="342.2" y2="843.4" stroke="#222" stroke-width="1" />
<text transform="translate(115.2,755)" font-family='"Liberation Sans", Arial, sans-serif' font-size="14.8" text-anchor="end" font-weight="bold" fill="#000" textLength="58.2" lengthAdjust="spacingAndGlyphs">Anti-IgM</text>
<text transform="translate(114,782.2)" font-family='"Liberation Sans", Arial, sans-serif' font-size="14.8" text-anchor="end" font-weight="bold" fill="#000" textLength="31.9" lengthAdjust="spacingAndGlyphs">IL-23</text>
<text transform="translate(114.7,809)" font-family='"Liberation Sans", Arial, sans-serif' font-size="14.8" text-anchor="end" font-weight="bold" fill="#000" textLength="64.7" lengthAdjust="spacingAndGlyphs">Anti-IL-17</text>
<text transform="translate(177.85,836)" font-family='"Liberation Sans", Arial, sans-serif' font-size="14.6" text-anchor="middle" font-weight="bold" fill="#000" textLength="46.9" lengthAdjust="spacingAndGlyphs">TIM-4+</text>
<text transform="translate(288.6,836)" font-family='"Liberation Sans", Arial, sans-serif' font-size="14.6" text-anchor="middle" font-weight="bold" fill="#000" textLength="46.9" lengthAdjust="spacingAndGlyphs">TIM-1+</text>
<text x="140.15" y="756.6" font-family='"Liberation Sans", Arial, sans-serif' font-size="13.5" text-anchor="middle">+</text>
<text x="177.5" y="756.6" font-family='"Liberation Sans", Arial, sans-serif' font-size="13.5" text-anchor="middle">+</text>
<text x="213.7" y="756.6" font-family='"Liberation Sans", Arial, sans-serif' font-size="13.5" text-anchor="middle">+</text>
<text x="249.1" y="756.6" font-family='"Liberation Sans", Arial, sans-serif' font-size="13.5" text-anchor="middle">+</text>
<text x="283.2" y="756.6" font-family='"Liberation Sans", Arial, sans-serif' font-size="13.5" text-anchor="middle">+</text>
<text x="321.2" y="756.6" font-family='"Liberation Sans", Arial, sans-serif' font-size="13.5" text-anchor="middle">+</text>
<text x="177.5" y="783.05" font-family='"Liberation Sans", Arial, sans-serif' font-size="13.5" text-anchor="middle">+</text>
<text x="213.7" y="783.05" font-family='"Liberation Sans", Arial, sans-serif' font-size="13.5" text-anchor="middle">+</text>
<text x="283.2" y="783.05" font-family='"Liberation Sans", Arial, sans-serif' font-size="13.5" text-anchor="middle">+</text>
<text x="321.2" y="783.05" font-family='"Liberation Sans", Arial, sans-serif' font-size="13.5" text-anchor="middle">+</text>
<text x="213.7" y="809.5" font-family='"Liberation Sans", Arial, sans-serif' font-size="13.5" text-anchor="middle">+</text>
<text x="321.2" y="809.5" font-family='"Liberation Sans", Arial, sans-serif' font-size="13.5" text-anchor="middle">+</text>
</g>
<g id="panelC">
<text transform="translate(364.9,470.4) scale(0.85,1)" font-family='"Liberation Sans", Arial, sans-serif' font-size="31.6" text-anchor="start" font-weight="bold" fill="#000">C</text>
<text transform="translate(396,636.5) rotate(-90)" font-family='"Liberation Sans", Arial, sans-serif' font-size="14.6" text-anchor="middle" font-weight="bold" fill="#000">IL-10 pg/ml</text>
<line x1="434.4" y1="572.6" x2="434.4" y2="720.7" stroke="#000" stroke-width="2" />
<line x1="426.9" y1="719.7" x2="680" y2="719.7" stroke="#000" stroke-width="2" />
<line x1="426.9" y1="719.7" x2="434.4" y2="719.7" stroke="#000" stroke-width="1.8" />
<text transform="translate(425,723.5) scale(1.17,1)" font-family='"Liberation Sans", Arial, sans-serif' font-size="10.4" text-anchor="end" font-weight="bold" fill="#000">0</text>
<line x1="426.9" y1="671" x2="434.4" y2="671" stroke="#000" stroke-width="1.8" />
<text transform="translate(425,674.8) scale(1.17,1)" font-family='"Liberation Sans", Arial, sans-serif' font-size="10.4" text-anchor="end" font-weight="bold" fill="#000">200</text>
<line x1="426.9" y1="622.3" x2="434.4" y2="622.3" stroke="#000" stroke-width="1.8" />
<text transform="translate(425,626.1) scale(1.17,1)" font-family='"Liberation Sans", Arial, sans-serif' font-size="10.4" text-anchor="end" font-weight="bold" fill="#000">400</text>
<line x1="426.9" y1="573.6" x2="434.4" y2="573.6" stroke="#000" stroke-width="1.8" />
<text transform="translate(425,577.4) scale(1.17,1)" font-family='"Liberation Sans", Arial, sans-serif' font-size="10.4" text-anchor="end" font-weight="bold" fill="#000">600</text>
<line x1="453.8" y1="719.7" x2="453.8" y2="725.5" stroke="#000" stroke-width="1.8" />
<line x1="483.4" y1="719.7" x2="483.4" y2="725.5" stroke="#000" stroke-width="1.8" />
<line x1="512.7" y1="719.7" x2="512.7" y2="725.5" stroke="#000" stroke-width="1.8" />
<line x1="541.8" y1="719.7" x2="541.8" y2="725.5" stroke="#000" stroke-width="1.8" />
<line x1="571.2" y1="719.7" x2="571.2" y2="725.5" stroke="#000" stroke-width="1.8" />
<line x1="600.3" y1="719.7" x2="600.3" y2="725.5" stroke="#000" stroke-width="1.8" />
<line x1="629.9" y1="719.7" x2="629.9" y2="725.5" stroke="#000" stroke-width="1.8" />
<line x1="659.2" y1="719.7" x2="659.2" y2="725.5" stroke="#000" stroke-width="1.8" />
<rect x="445.1" y="702.6" width="17.4" height="17.1" fill="#808080" stroke="#000" stroke-width="1.6" />
<rect x="474.7" y="713.4" width="17.4" height="6.3" fill="#a0a0a0" stroke="#000" stroke-width="1.6" />
<rect x="504" y="675.7" width="17.4" height="44" fill="#808080" stroke="#000" stroke-width="1.6" />
<rect x="562.5" y="608.6" width="17.4" height="111.1" fill="#a6a6aa" stroke="#000" stroke-width="1.6" />
<rect x="591.6" y="706.3" width="17.4" height="13.4" fill="#a6a6aa" stroke="#000" stroke-width="1.6" />
<rect x="621.2" y="694" width="17.4" height="25.7" fill="#fff" stroke="#000" stroke-width="1.6" />
<rect x="650.5" y="708.8" width="17.4" height="10.9" fill="#a6a6aa" stroke="#000" stroke-width="1.6" />
<line x1="512.7" y1="668" x2="512.7" y2="681" stroke="#000" stroke-width="1" />
<line x1="508.5" y1="680.8" x2="517" y2="680.8" stroke="#000" stroke-width="1" />
<line x1="571.3" y1="594" x2="571.3" y2="620" stroke="#000" stroke-width="1" />
<circle cx="447.5" cy="702.2" r="3.4" fill="#00ff00" stroke="#000" stroke-width="1.5"/>
<circle cx="453.7" cy="699.9" r="3.4" fill="#00ff00" stroke="#000" stroke-width="1.5"/>
<circle cx="460.5" cy="700.7" r="3.4" fill="#00ff00" stroke="#000" stroke-width="1.5"/>
<circle cx="476.8" cy="714.7" r="3.4" fill="#00ff00" stroke="#000" stroke-width="1.5"/>
<circle cx="483.3" cy="711.7" r="3.4" fill="#00ff00" stroke="#000" stroke-width="1.5"/>
<circle cx="489.8" cy="712.2" r="3.4" fill="#00ff00" stroke="#000" stroke-width="1.5"/>
<circle cx="506.6" cy="675.6" r="3.4" fill="#00ff00" stroke="#000" stroke-width="1.5"/>
<circle cx="512.9" cy="668.1" r="3.4" fill="#00ff00" stroke="#000" stroke-width="1.5"/>
<circle cx="519.4" cy="675.3" r="3.4" fill="#00ff00" stroke="#000" stroke-width="1.5"/>
<circle cx="535.4" cy="718" r="3.4" fill="#00ff00" stroke="#000" stroke-width="1.5"/>
<circle cx="541.7" cy="715.2" r="3.4" fill="#00ff00" stroke="#000" stroke-width="1.5"/>
<circle cx="548.5" cy="716.5" r="3.4" fill="#00ff00" stroke="#000" stroke-width="1.5"/>
<circle cx="594.2" cy="705.4" r="3.4" fill="#00ff00" stroke="#000" stroke-width="1.5"/>
<circle cx="600.7" cy="701.2" r="3.4" fill="#00ff00" stroke="#000" stroke-width="1.5"/>
<circle cx="607.2" cy="703.7" r="3.4" fill="#00ff00" stroke="#000" stroke-width="1.5"/>
<circle cx="623.3" cy="693.1" r="3.4" fill="#00ff00" stroke="#000" stroke-width="1.5"/>
<circle cx="629.8" cy="689.9" r="3.4" fill="#00ff00" stroke="#000" stroke-width="1.5"/>
<circle cx="636.5" cy="692.4" r="3.4" fill="#00ff00" stroke="#000" stroke-width="1.5"/>
<circle cx="652.8" cy="707.4" r="3.4" fill="#00ff00" stroke="#000" stroke-width="1.5"/>
<circle cx="659.1" cy="704.7" r="3.4" fill="#00ff00" stroke="#000" stroke-width="1.5"/>
<circle cx="665.9" cy="706.2" r="3.4" fill="#00ff00" stroke="#000" stroke-width="1.5"/>
<circle cx="571.4" cy="594.4" r="3" fill="#00dd00" stroke="#000" stroke-width="1.5"/>
<circle cx="571.4" cy="609.4" r="3" fill="#00dd00" stroke="#000" stroke-width="1.5"/>
<circle cx="571.4" cy="618.9" r="3" fill="#00dd00" stroke="#000" stroke-width="1.5"/>
<line x1="453.2" y1="576.3" x2="483.6" y2="576.3" stroke="#000" stroke-width="1.8" />
<text transform="translate(471.3,571.3) scale(1.25,1)" font-family='"DejaVu Sans", sans-serif' font-size="9" text-anchor="middle" font-weight="normal" fill="#8c8c8c">□□□</text>
<line x1="451.5" y1="648.8" x2="516.9" y2="648.8" stroke="#000" stroke-width="1.8" />
<line x1="452.2" y1="656.3" x2="489.1" y2="656.3" stroke="#000" stroke-width="1.8" />
<text transform="translate(469,646) scale(1.2,1)" font-family='"Liberation Sans", Arial, sans-serif' font-size="16.5" text-anchor="middle" font-weight="normal" fill="#000" letter-spacing="1">***</text>
<line x1="570.9" y1="586.3" x2="603.7" y2="586.3" stroke="#000" stroke-width="1.8" />
<text transform="translate(594.7,602.5) scale(1.2,1)" font-family='"Liberation Sans", Arial, sans-serif' font-size="16.5" text-anchor="middle" font-weight="normal" fill="#000" letter-spacing="1">***</text>
<line x1="597.2" y1="645.3" x2="662.4" y2="645.3" stroke="#000" stroke-width="1.8" />
<text transform="translate(630.3,641.5)" font-family='"Liberation Sans", Arial, sans-serif' font-size="15.5" text-anchor="middle" font-weight="normal" fill="#000">ns</text>
<line x1="597.2" y1="670.1" x2="629" y2="670.1" stroke="#000" stroke-width="1.8" />
<line x1="633.3" y1="670.1" x2="665.9" y2="670.1" stroke="#000" stroke-width="1.8" />
<text transform="translate(614.5,668) scale(1.2,1)" font-family='"Liberation Sans", Arial, sans-serif' font-size="16.5" text-anchor="middle" font-weight="normal" fill="#000" letter-spacing="1">**</text>
<text transform="translate(649.3,668.5) scale(1.2,1)" font-family='"Liberation Sans", Arial, sans-serif' font-size="16.5" text-anchor="middle" font-weight="normal" fill="#000" letter-spacing="1">***</text>
<rect x="559.5" y="738" width="122.8" height="131.6" fill="#e7e6e6" stroke="none" stroke-width="1" />
<line x1="440.2" y1="738" x2="682.3" y2="738" stroke="#222" stroke-width="1" />
<line x1="440.2" y1="764.4" x2="682.3" y2="764.4" stroke="#222" stroke-width="1" />
<line x1="440.2" y1="790.7" x2="682.3" y2="790.7" stroke="#222" stroke-width="1" />
<line x1="440.2" y1="816.8" x2="682.3" y2="816.8" stroke="#222" stroke-width="1" />
<line x1="440.2" y1="842.8" x2="682.3" y2="842.8" stroke="#222" stroke-width="1.8" />
<line x1="440.2" y1="869.6" x2="682.3" y2="869.6" stroke="#222" stroke-width="1" />
<line x1="440.2" y1="738" x2="440.2" y2="869.6" stroke="#222" stroke-width="1" />
<line x1="470.8" y1="738" x2="470.8" y2="842.8" stroke="#222" stroke-width="1" />
<line x1="500.4" y1="738" x2="500.4" y2="842.8" stroke="#222" stroke-width="1" />
<line x1="530.9" y1="738" x2="530.9" y2="842.8" stroke="#222" stroke-width="1" />
<line x1="559.5" y1="737.5" x2="559.5" y2="870.1" stroke="#000" stroke-width="2.2" />
<line x1="590.5" y1="738" x2="590.5" y2="842.8" stroke="#222" stroke-width="1" />
<line x1="619.5" y1="738" x2="619.5" y2="842.8" stroke="#222" stroke-width="1" />
<line x1="649.5" y1="738" x2="649.5" y2="842.8" stroke="#222" stroke-width="1" />
<line x1="682.3" y1="738" x2="682.3" y2="869.6" stroke="#222" stroke-width="1" />
<text transform="translate(427.6,756.3)" font-family='"Liberation Sans", Arial, sans-serif' font-size="14.8" text-anchor="end" font-weight="bold" fill="#000" textLength="58.2" lengthAdjust="spacingAndGlyphs">Anti-IgM</text>
<text transform="translate(427.6,782.2)" font-family='"Liberation Sans", Arial, sans-serif' font-size="14.8" text-anchor="end" font-weight="bold" fill="#000" textLength="31.6" lengthAdjust="spacingAndGlyphs">IL-23</text>
<text transform="translate(427.6,810.2)" font-family='"Liberation Sans", Arial, sans-serif' font-size="14.8" text-anchor="end" font-weight="bold" fill="#000" textLength="64.7" lengthAdjust="spacingAndGlyphs">Anti-IL-17</text>
<text transform="translate(427.6,837.8)" font-family='"Liberation Sans", Arial, sans-serif' font-size="14.8" text-anchor="end" font-weight="bold" fill="#000" textLength="31.6" lengthAdjust="spacingAndGlyphs">IL-17</text>
<text transform="translate(505.15,862.4)" font-family='"Liberation Sans", Arial, sans-serif' font-size="14.6" text-anchor="middle" font-weight="bold" fill="#000" textLength="47.6" lengthAdjust="spacingAndGlyphs">TIM-4+</text>
<text transform="translate(626.2,862.4)" font-family='"Liberation Sans", Arial, sans-serif' font-size="14.6" text-anchor="middle" font-weight="bold" fill="#000" textLength="47.6" lengthAdjust="spacingAndGlyphs">TIM-1+</text>
<text x="455.5" y="756.4" font-family='"Liberation Sans", Arial, sans-serif' font-size="13.5" text-anchor="middle">+</text>
<text x="485.6" y="756.4" font-family='"Liberation Sans", Arial, sans-serif' font-size="13.5" text-anchor="middle">+</text>
<text x="515.65" y="756.4" font-family='"Liberation Sans", Arial, sans-serif' font-size="13.5" text-anchor="middle">+</text>
<text x="545.2" y="756.4" font-family='"Liberation Sans", Arial, sans-serif' font-size="13.5" text-anchor="middle">+</text>
<text x="575" y="756.4" font-family='"Liberation Sans", Arial, sans-serif' font-size="13.5" text-anchor="middle">+</text>
<text x="605" y="756.4" font-family='"Liberation Sans", Arial, sans-serif' font-size="13.5" text-anchor="middle">+</text>
<text x="634.5" y="756.4" font-family='"Liberation Sans", Arial, sans-serif' font-size="13.5" text-anchor="middle">+</text>
<text x="665.9" y="756.4" font-family='"Liberation Sans", Arial, sans-serif' font-size="13.5" text-anchor="middle">+</text>
<text x="485.6" y="782.75" font-family='"Liberation Sans", Arial, sans-serif' font-size="13.5" text-anchor="middle">+</text>
<text x="515.65" y="782.75" font-family='"Liberation Sans", Arial, sans-serif' font-size="13.5" text-anchor="middle">+</text>
<text x="545.2" y="782.75" font-family='"Liberation Sans", Arial, sans-serif' font-size="13.5" text-anchor="middle">+</text>
<text x="605" y="782.75" font-family='"Liberation Sans", Arial, sans-serif' font-size="13.5" text-anchor="middle">+</text>
<text x="634.5" y="782.75" font-family='"Liberation Sans", Arial, sans-serif' font-size="13.5" text-anchor="middle">+</text>
<text x="665.9" y="782.75" font-family='"Liberation Sans", Arial, sans-serif' font-size="13.5" text-anchor="middle">+</text>
<text x="515.65" y="808.95" font-family='"Liberation Sans", Arial, sans-serif' font-size="13.5" text-anchor="middle">+</text>
<text x="634.5" y="808.95" font-family='"Liberation Sans", Arial, sans-serif' font-size="13.5" text-anchor="middle">+</text>
<text x="545.2" y="835" font-family='"Liberation Sans", Arial, sans-serif' font-size="13.5" text-anchor="middle">+</text>
<text x="665.9" y="835" font-family='"Liberation Sans", Arial, sans-serif' font-size="13.5" text-anchor="middle">+</text>
</g>
<g id="panelD">
<text transform="translate(12.9,926.4) scale(0.97,1)" font-family='"Liberation Sans", Arial, sans-serif' font-size="30.5" text-anchor="start" font-weight="bold" fill="#000">D</text>
<g transform="translate(49.3,1102.4) rotate(-90)" font-family='"Liberation Serif", "DejaVu Serif", serif' font-weight="bold" font-style="italic" fill="#1a1a1a">
<text x="0" y="0" font-size="21" textLength="45.7" lengthAdjust="spacingAndGlyphs">Il17a</text>
<text x="52.6" y="0" font-size="21" font-style="normal">(</text>
<text x="60.6" y="0" font-size="21" font-style="normal">2</text>
<text transform="translate(72.4,-5.7) scale(0.93,1)" font-size="13.8" font-style="normal" stroke="#1a1a1a" stroke-width="0.25">-ΔΔ</text>
<text transform="translate(93,-5.7) scale(0.9,1)" font-size="13.8" stroke="#1a1a1a" stroke-width="0.25">CT</text>
<text x="108.2" y="0" font-size="21" font-style="normal">)</text>
</g>
<line x1="97.8" y1="908" x2="97.8" y2="1152.7" stroke="#000" stroke-width="2" />
<line x1="89" y1="1151.7" x2="492.7" y2="1151.7" stroke="#000" stroke-width="2" />
<line x1="89" y1="1151.7" x2="97.8" y2="1151.7" stroke="#000" stroke-width="1.6" />
<text transform="translate(85.4,1157.7)" font-family='"Liberation Sans", Arial, sans-serif' font-size="15.6" text-anchor="end" font-weight="bold" fill="#000">0.0</text>
<line x1="89" y1="1114.32" x2="97.8" y2="1114.32" stroke="#000" stroke-width="1.6" />
<text transform="translate(85.4,1120.32)" font-family='"Liberation Sans", Arial, sans-serif' font-size="15.6" text-anchor="end" font-weight="bold" fill="#000">0.2</text>
<line x1="89" y1="1076.94" x2="97.8" y2="1076.94" stroke="#000" stroke-width="1.6" />
<text transform="translate(85.4,1082.94)" font-family='"Liberation Sans", Arial, sans-serif' font-size="15.6" text-anchor="end" font-weight="bold" fill="#000">0.4</text>
<line x1="89" y1="1039.56" x2="97.8" y2="1039.56" stroke="#000" stroke-width="1.6" />
<text transform="translate(85.4,1045.56)" font-family='"Liberation Sans", Arial, sans-serif' font-size="15.6" text-anchor="end" font-weight="bold" fill="#000">0.6</text>
<line x1="89" y1="1002.18" x2="97.8" y2="1002.18" stroke="#000" stroke-width="1.6" />
<text transform="translate(85.4,1008.18)" font-family='"Liberation Sans", Arial, sans-serif' font-size="15.6" text-anchor="end" font-weight="bold" fill="#000">0.8</text>
<line x1="89" y1="964.8" x2="97.8" y2="964.8" stroke="#000" stroke-width="1.6" />
<text transform="translate(85.4,970.8)" font-family='"Liberation Sans", Arial, sans-serif' font-size="15.6" text-anchor="end" font-weight="bold" fill="#000">1.0</text>
<line x1="89" y1="927.42" x2="97.8" y2="927.42" stroke="#000" stroke-width="1.6" />
<text transform="translate(85.4,933.42)" font-family='"Liberation Sans", Arial, sans-serif' font-size="15.6" text-anchor="end" font-weight="bold" fill="#000">1.2</text>
<line x1="109.8" y1="1151.7" x2="109.8" y2="1156.8" stroke="#000" stroke-width="1.6" />
<line x1="134.1" y1="1151.7" x2="134.1" y2="1156.8" stroke="#000" stroke-width="1.6" />
<line x1="158.8" y1="1151.7" x2="158.8" y2="1156.8" stroke="#000" stroke-width="1.6" />
<line x1="183.4" y1="1151.7" x2="183.4" y2="1156.8" stroke="#000" stroke-width="1.6" />
<line x1="208.1" y1="1151.7" x2="208.1" y2="1156.8" stroke="#000" stroke-width="1.6" />
<line x1="232.6" y1="1151.7" x2="232.6" y2="1156.8" stroke="#000" stroke-width="1.6" />
<line x1="257.6" y1="1151.7" x2="257.6" y2="1156.8" stroke="#000" stroke-width="1.6" />
<line x1="282.1" y1="1151.7" x2="282.1" y2="1156.8" stroke="#000" stroke-width="1.6" />
<line x1="306.7" y1="1151.7" x2="306.7" y2="1156.8" stroke="#000" stroke-width="1.6" />
<line x1="331.3" y1="1151.7" x2="331.3" y2="1156.8" stroke="#000" stroke-width="1.6" />
<line x1="355.9" y1="1151.7" x2="355.9" y2="1156.8" stroke="#000" stroke-width="1.6" />
<line x1="380.4" y1="1151.7" x2="380.4" y2="1156.8" stroke="#000" stroke-width="1.6" />
<line x1="405.6" y1="1151.7" x2="405.6" y2="1156.8" stroke="#000" stroke-width="1.6" />
<line x1="430" y1="1151.7" x2="430" y2="1156.8" stroke="#000" stroke-width="1.6" />
<line x1="454.7" y1="1151.7" x2="454.7" y2="1156.8" stroke="#000" stroke-width="1.6" />
<line x1="479.2" y1="1151.7" x2="479.2" y2="1156.8" stroke="#000" stroke-width="1.6" />
<rect x="104.3" y="965.6" width="11" height="186.1" fill="#808080" stroke="#111" stroke-width="1.4" />
<rect x="128.6" y="1036.7" width="11" height="115" fill="#808080" stroke="#111" stroke-width="1.4" />
<rect x="153.3" y="1030.9" width="11" height="120.8" fill="#808080" stroke="#111" stroke-width="1.4" />
<rect x="177.9" y="1003.7" width="11" height="148" fill="#808080" stroke="#111" stroke-width="1.4" />
<rect x="202.6" y="938.8" width="11" height="212.9" fill="#808080" stroke="#111" stroke-width="1.4" />
<rect x="227.1" y="1126.2" width="11" height="25.5" fill="#808080" stroke="#111" stroke-width="1.4" />
<rect x="252.1" y="944.8" width="11" height="206.9" fill="#808080" stroke="#111" stroke-width="1.4" />
<rect x="276.6" y="959.9" width="11" height="191.8" fill="#808080" stroke="#111" stroke-width="1.4" />
<rect x="301.2" y="1133.6" width="11" height="18.1" fill="#808080" stroke="#111" stroke-width="1.4" />
<rect x="325.8" y="1143.4" width="11" height="8.3" fill="#808080" stroke="#111" stroke-width="1.4" />
<rect x="350.4" y="1149.9" width="11" height="1.8" fill="#808080" stroke="#111" stroke-width="1.4" />
<rect x="374.9" y="1094.2" width="11" height="57.5" fill="#808080" stroke="#111" stroke-width="1.4" />
<rect x="400.1" y="1070.5" width="11" height="81.2" fill="#808080" stroke="#111" stroke-width="1.4" />
<rect x="424.5" y="1123.7" width="11" height="28" fill="#808080" stroke="#111" stroke-width="1.4" />
<rect x="449.2" y="1073.9" width="11" height="77.8" fill="#808080" stroke="#111" stroke-width="1.4" />
<rect x="473.7" y="1077" width="11" height="74.7" fill="#808080" stroke="#111" stroke-width="1.4" />
<line x1="134.1" y1="1020" x2="134.1" y2="1049.6" stroke="#111" stroke-width="1.2" />
<line x1="131.5" y1="1020" x2="136.7" y2="1020" stroke="#111" stroke-width="1.2" />
<line x1="131.5" y1="1049.6" x2="136.7" y2="1049.6" stroke="#111" stroke-width="1.2" />
<line x1="158.7" y1="1021.3" x2="158.7" y2="1039.6" stroke="#111" stroke-width="1.2" />
<line x1="156.1" y1="1021.3" x2="161.3" y2="1021.3" stroke="#111" stroke-width="1.2" />
<line x1="156.1" y1="1039.6" x2="161.3" y2="1039.6" stroke="#111" stroke-width="1.2" />
<line x1="183.4" y1="1000.5" x2="183.4" y2="1006" stroke="#111" stroke-width="1.2" />
<line x1="180.8" y1="1000.5" x2="186" y2="1000.5" stroke="#111" stroke-width="1.2" />
<line x1="180.8" y1="1006" x2="186" y2="1006" stroke="#111" stroke-width="1.2" />
<line x1="208.1" y1="927.6" x2="208.1" y2="946.4" stroke="#111" stroke-width="1.2" />
<line x1="205.5" y1="927.6" x2="210.7" y2="927.6" stroke="#111" stroke-width="1.2" />
<line x1="205.5" y1="946.4" x2="210.7" y2="946.4" stroke="#111" stroke-width="1.2" />
<line x1="232.5" y1="1119.8" x2="232.5" y2="1133.6" stroke="#111" stroke-width="1.2" />
<line x1="229.9" y1="1119.8" x2="235.1" y2="1119.8" stroke="#111" stroke-width="1.2" />
<line x1="229.9" y1="1133.6" x2="235.1" y2="1133.6" stroke="#111" stroke-width="1.2" />
<line x1="282.1" y1="955.5" x2="282.1" y2="963.3" stroke="#111" stroke-width="1.2" />
<line x1="279.5" y1="955.5" x2="284.7" y2="955.5" stroke="#111" stroke-width="1.2" />
<line x1="279.5" y1="963.3" x2="284.7" y2="963.3" stroke="#111" stroke-width="1.2" />
<line x1="306.6" y1="1129" x2="306.6" y2="1137.1" stroke="#111" stroke-width="1.2" />
<line x1="304" y1="1129" x2="309.2" y2="1129" stroke="#111" stroke-width="1.2" />
<line x1="304" y1="1137.1" x2="309.2" y2="1137.1" stroke="#111" stroke-width="1.2" />
<line x1="331.4" y1="1139.6" x2="331.4" y2="1144" stroke="#111" stroke-width="1.2" />
<line x1="328.8" y1="1139.6" x2="334" y2="1139.6" stroke="#111" stroke-width="1.2" />
<line x1="328.8" y1="1144" x2="334" y2="1144" stroke="#111" stroke-width="1.2" />
<line x1="380.4" y1="1087.8" x2="380.4" y2="1096.6" stroke="#111" stroke-width="1.2" />
<line x1="377.8" y1="1087.8" x2="383" y2="1087.8" stroke="#111" stroke-width="1.2" />
<line x1="377.8" y1="1096.6" x2="383" y2="1096.6" stroke="#111" stroke-width="1.2" />
<line x1="430" y1="1111.8" x2="430" y2="1131.2" stroke="#111" stroke-width="1.2" />
<line x1="427.4" y1="1111.8" x2="432.6" y2="1111.8" stroke="#111" stroke-width="1.2" />
<line x1="427.4" y1="1131.2" x2="432.6" y2="1131.2" stroke="#111" stroke-width="1.2" />
<ellipse cx="106.6" cy="965.2" rx="2.6" ry="1.5" fill="#00b400" stroke="#001400" stroke-width="1"/>
<ellipse cx="109.8" cy="965.2" rx="2.6" ry="1.5" fill="#00b400" stroke="#001400" stroke-width="1"/>
<ellipse cx="113" cy="965.2" rx="2.6" ry="1.5" fill="#00b400" stroke="#001400" stroke-width="1"/>
<ellipse cx="134.1" cy="1020" rx="2.6" ry="1.5" fill="#00b400" stroke="#001400" stroke-width="1"/>
<ellipse cx="134.1" cy="1039.6" rx="2.6" ry="1.5" fill="#00b400" stroke="#001400" stroke-width="1"/>
<ellipse cx="134.1" cy="1049.6" rx="2.6" ry="1.5" fill="#00b400" stroke="#001400" stroke-width="1"/>
<ellipse cx="158.7" cy="1021.3" rx="2.6" ry="1.5" fill="#00b400" stroke="#001400" stroke-width="1"/>
<ellipse cx="158.7" cy="1030.5" rx="2.6" ry="1.5" fill="#00b400" stroke="#001400" stroke-width="1"/>
<ellipse cx="158.7" cy="1039.6" rx="2.6" ry="1.5" fill="#00b400" stroke="#001400" stroke-width="1"/>
<ellipse cx="179.7" cy="1000.3" rx="2.6" ry="1.5" fill="#00b400" stroke="#001400" stroke-width="1"/>
<ellipse cx="186.8" cy="1002.3" rx="2.6" ry="1.5" fill="#00b400" stroke="#001400" stroke-width="1"/>
<ellipse cx="183.3" cy="1008" rx="2.6" ry="1.5" fill="#00b400" stroke="#001400" stroke-width="1"/>
<ellipse cx="208.1" cy="927.6" rx="2.6" ry="1.5" fill="#00b400" stroke="#001400" stroke-width="1"/>
<ellipse cx="208.1" cy="942.6" rx="2.6" ry="1.5" fill="#00b400" stroke="#001400" stroke-width="1"/>
<ellipse cx="208.1" cy="946.4" rx="2.6" ry="1.5" fill="#00b400" stroke="#001400" stroke-width="1"/>
<ellipse cx="232.4" cy="1119.8" rx="2.6" ry="1.5" fill="#00b400" stroke="#001400" stroke-width="1"/>
<ellipse cx="232.4" cy="1123.5" rx="2.6" ry="1.5" fill="#00b400" stroke="#001400" stroke-width="1"/>
<ellipse cx="232.4" cy="1133.6" rx="2.6" ry="1.5" fill="#00b400" stroke="#001400" stroke-width="1"/>
<ellipse cx="254.2" cy="942.6" rx="2.6" ry="1.5" fill="#00b400" stroke="#001400" stroke-width="1"/>
<ellipse cx="260.5" cy="944.4" rx="2.6" ry="1.5" fill="#00b400" stroke="#001400" stroke-width="1"/>
<ellipse cx="254.2" cy="946.1" rx="2.6" ry="1.5" fill="#00b400" stroke="#001400" stroke-width="1"/>
<ellipse cx="282.1" cy="955.5" rx="2.6" ry="1.5" fill="#00b400" stroke="#001400" stroke-width="1"/>
<ellipse cx="282.1" cy="959.7" rx="2.6" ry="1.5" fill="#00b400" stroke="#001400" stroke-width="1"/>
<ellipse cx="282.1" cy="963.3" rx="2.6" ry="1.5" fill="#00b400" stroke="#001400" stroke-width="1"/>
<ellipse cx="306.6" cy="1129" rx="2.6" ry="1.5" fill="#00b400" stroke="#001400" stroke-width="1"/>
<ellipse cx="306.6" cy="1133.2" rx="2.6" ry="1.5" fill="#00b400" stroke="#001400" stroke-width="1"/>
<ellipse cx="306.6" cy="1137.1" rx="2.6" ry="1.5" fill="#00b400" stroke="#001400" stroke-width="1"/>
<ellipse cx="331.4" cy="1139.6" rx="2.6" ry="1.5" fill="#00b400" stroke="#001400" stroke-width="1"/>
<ellipse cx="327.4" cy="1143.9" rx="2.6" ry="1.5" fill="#00b400" stroke="#001400" stroke-width="1"/>
<ellipse cx="335" cy="1143" rx="2.6" ry="1.5" fill="#00b400" stroke="#001400" stroke-width="1"/>
<ellipse cx="355.9" cy="1147.5" rx="2.6" ry="1.5" fill="#00b400" stroke="#001400" stroke-width="1"/>
<ellipse cx="352.5" cy="1149.5" rx="2.6" ry="1.5" fill="#00b400" stroke="#001400" stroke-width="1"/>
<ellipse cx="359.5" cy="1149.2" rx="2.6" ry="1.5" fill="#00b400" stroke="#001400" stroke-width="1"/>
<ellipse cx="380.4" cy="1087.8" rx="2.6" ry="1.5" fill="#00b400" stroke="#001400" stroke-width="1"/>
<ellipse cx="377.3" cy="1096.6" rx="2.6" ry="1.5" fill="#00b400" stroke="#001400" stroke-width="1"/>
<ellipse cx="382.9" cy="1096" rx="2.6" ry="1.5" fill="#00b400" stroke="#001400" stroke-width="1"/>
<ellipse cx="401.8" cy="1067.9" rx="2.6" ry="1.5" fill="#00b400" stroke="#001400" stroke-width="1"/>
<ellipse cx="408.8" cy="1069.5" rx="2.6" ry="1.5" fill="#00b400" stroke="#001400" stroke-width="1"/>
<ellipse cx="401.8" cy="1071.2" rx="2.6" ry="1.5" fill="#00b400" stroke="#001400" stroke-width="1"/>
<ellipse cx="429.9" cy="1111.8" rx="2.6" ry="1.5" fill="#00b400" stroke="#001400" stroke-width="1"/>
<ellipse cx="429.9" cy="1126.1" rx="2.6" ry="1.5" fill="#00b400" stroke="#001400" stroke-width="1"/>
<ellipse cx="429.9" cy="1131.2" rx="2.6" ry="1.5" fill="#00b400" stroke="#001400" stroke-width="1"/>
<ellipse cx="451" cy="1074.3" rx="2.6" ry="1.5" fill="#00b400" stroke="#001400" stroke-width="1"/>
<ellipse cx="454.7" cy="1072.6" rx="2.6" ry="1.5" fill="#00b400" stroke="#001400" stroke-width="1"/>
<ellipse cx="458.4" cy="1072.6" rx="2.6" ry="1.5" fill="#00b400" stroke="#001400" stroke-width="1"/>
<ellipse cx="475.5" cy="1077.1" rx="2.6" ry="1.5" fill="#00b400" stroke="#001400" stroke-width="1"/>
<ellipse cx="479.2" cy="1076" rx="2.6" ry="1.5" fill="#00b400" stroke="#001400" stroke-width="1"/>
<ellipse cx="483.1" cy="1075.7" rx="2.6" ry="1.5" fill="#00b400" stroke="#001400" stroke-width="1"/>
<line x1="109.3" y1="936.5" x2="202" y2="936.5" stroke="#8a8a8a" stroke-width="1" />
<text transform="translate(162.7,936.4)" font-family='"Liberation Sans", Arial, sans-serif' font-size="14" text-anchor="middle" font-weight="bold" fill="#1a1a1a" letter-spacing="2.3">**</text>
<line x1="109.3" y1="945.5" x2="149.9" y2="945.5" stroke="#8a8a8a" stroke-width="1" />
<text transform="translate(130.8,948.2)" font-family='"Liberation Sans", Arial, sans-serif' font-size="14" text-anchor="middle" font-weight="bold" fill="#1a1a1a" letter-spacing="2.3">**</text>
<line x1="109.3" y1="954.5" x2="127.9" y2="954.5" stroke="#8a8a8a" stroke-width="1" />
<text transform="translate(118.2,956.9)" font-family='"Liberation Sans", Arial, sans-serif' font-size="14" text-anchor="middle" font-weight="bold" fill="#1a1a1a" letter-spacing="2.3">**</text>
<line x1="212.8" y1="934.5" x2="230.9" y2="934.5" stroke="#8a8a8a" stroke-width="1" />
<text transform="translate(227.2,927.6)" font-family='"Liberation Sans", Arial, sans-serif' font-size="14" text-anchor="middle" font-weight="bold" fill="#1a1a1a" letter-spacing="2.3">****</text>
<line x1="312" y1="1047.5" x2="404.9" y2="1047.5" stroke="#8a8a8a" stroke-width="1" />
<text transform="translate(365.4,1045.7)" font-family='"Liberation Sans", Arial, sans-serif' font-size="14" text-anchor="middle" font-weight="bold" fill="#1a1a1a" letter-spacing="2.3">****</text>
<line x1="406.3" y1="1060.5" x2="433" y2="1060.5" stroke="#8a8a8a" stroke-width="1" />
<text transform="translate(420.2,1060.3)" font-family='"Liberation Sans", Arial, sans-serif' font-size="14" text-anchor="middle" font-weight="bold" fill="#1a1a1a" letter-spacing="2.3">***</text>
<line x1="351.9" y1="1078.5" x2="379.5" y2="1078.5" stroke="#8a8a8a" stroke-width="1" />
<text transform="translate(367.1,1078.6)" font-family='"Liberation Sans", Arial, sans-serif' font-size="14" text-anchor="middle" font-weight="bold" fill="#1a1a1a" letter-spacing="2.3">****</text>
<line x1="309.1" y1="1095.5" x2="328.9" y2="1095.5" stroke="#8a8a8a" stroke-width="1" />
<text transform="translate(320.4,1095.5)" font-family='"Liberation Sans", Arial, sans-serif' font-size="14" text-anchor="middle" font-weight="bold" fill="#1a1a1a" letter-spacing="2.3">*</text>
<line x1="331.7" y1="1095.5" x2="351.7" y2="1095.5" stroke="#8a8a8a" stroke-width="1" />
<text transform="translate(342.3,1095.5)" font-family='"Liberation Sans", Arial, sans-serif' font-size="14" text-anchor="middle" font-weight="bold" fill="#1a1a1a" letter-spacing="2.3">*</text>
<rect x="18.4" y="1179.2" width="473.8" height="25.1" fill="#fce4d6" stroke="none" stroke-width="1" />
<rect x="18.4" y="1228.8" width="473.8" height="25.1" fill="#fce4d6" stroke="none" stroke-width="1" />
<line x1="18.4" y1="1179.2" x2="492.2" y2="1179.2" stroke="#222" stroke-width="1" />
<line x1="18.4" y1="1204.3" x2="492.2" y2="1204.3" stroke="#222" stroke-width="1" />
<line x1="18.4" y1="1228.8" x2="492.2" y2="1228.8" stroke="#222" stroke-width="1" />
<line x1="18.4" y1="1253.9" x2="492.2" y2="1253.9" stroke="#222" stroke-width="1" />
<line x1="18.4" y1="1278.4" x2="492.2" y2="1278.4" stroke="#222" stroke-width="1" />
<line x1="18.4" y1="1179.2" x2="18.4" y2="1278.4" stroke="#222" stroke-width="1" />
<line x1="96.2" y1="1157" x2="492.2" y2="1157" stroke="#222" stroke-width="1" />
<line x1="96.2" y1="1157" x2="294.5" y2="1157" stroke="#8ea9db" stroke-width="1.2" />
<line x1="96.2" y1="1179.2" x2="294.5" y2="1179.2" stroke="#8ea9db" stroke-width="1.2" />
<line x1="96.2" y1="1156.5" x2="96.2" y2="1280" stroke="#000" stroke-width="2" />
<line x1="121.3" y1="1179.2" x2="121.3" y2="1278.4" stroke="#222" stroke-width="1" />
<line x1="146.4" y1="1179.2" x2="146.4" y2="1278.4" stroke="#222" stroke-width="1" />
<line x1="171.6" y1="1179.2" x2="171.6" y2="1278.4" stroke="#222" stroke-width="1" />
<line x1="197" y1="1156.5" x2="197" y2="1280" stroke="#000" stroke-width="2" />
<line x1="222.2" y1="1179.2" x2="222.2" y2="1278.4" stroke="#222" stroke-width="1" />
<line x1="247.3" y1="1179.2" x2="247.3" y2="1278.4" stroke="#222" stroke-width="1" />
<line x1="270.5" y1="1179.2" x2="270.5" y2="1278.4" stroke="#222" stroke-width="1" />
<line x1="294.5" y1="1156.5" x2="294.5" y2="1280" stroke="#000" stroke-width="2" />
<line x1="319.7" y1="1179.2" x2="319.7" y2="1278.4" stroke="#222" stroke-width="1" />
<line x1="344.5" y1="1179.2" x2="344.5" y2="1278.4" stroke="#222" stroke-width="1" />
<line x1="368.9" y1="1179.2" x2="368.9" y2="1278.4" stroke="#222" stroke-width="1" />
<line x1="394" y1="1156.5" x2="394" y2="1280" stroke="#000" stroke-width="2" />
<line x1="418.2" y1="1179.2" x2="418.2" y2="1278.4" stroke="#222" stroke-width="1" />
<line x1="443" y1="1179.2" x2="443" y2="1278.4" stroke="#222" stroke-width="1" />
<line x1="467.8" y1="1179.2" x2="467.8" y2="1278.4" stroke="#222" stroke-width="1" />
<line x1="492.2" y1="1156.5" x2="492.2" y2="1280" stroke="#000" stroke-width="2" />
<text transform="translate(89.8,1197.6)" font-family='"Liberation Sans", Arial, sans-serif' font-size="14.5" text-anchor="end" font-weight="bold" fill="#000" textLength="57" lengthAdjust="spacingAndGlyphs">Anti-IgM</text>
<text transform="translate(89.8,1222.1)" font-family='"Liberation Sans", Arial, sans-serif' font-size="14.5" text-anchor="end" font-weight="bold" fill="#000" textLength="31.2" lengthAdjust="spacingAndGlyphs">IL-17</text>
<text transform="translate(89.8,1246.6)" font-family='"Liberation Sans", Arial, sans-serif' font-size="14.5" text-anchor="end" font-weight="bold" fill="#000" textLength="31.2" lengthAdjust="spacingAndGlyphs">IL-23</text>
<text transform="translate(89.8,1270.7)" font-family='"Liberation Sans", Arial, sans-serif' font-size="14.5" text-anchor="end" font-weight="bold" fill="#000" textLength="63" lengthAdjust="spacingAndGlyphs">Anti-IL-17</text>
<text transform="translate(150.6,1171.8)" font-family='"Liberation Sans", Arial, sans-serif' font-size="13.2" text-anchor="middle" font-weight="bold" fill="#000" textLength="58.7" lengthAdjust="spacingAndGlyphs">wt TIM-1+</text>
<text transform="translate(246.4,1171.8)" font-family='"Liberation Sans", Arial, sans-serif' font-size="13.2" text-anchor="middle" font-weight="bold" fill="#000" textLength="92" lengthAdjust="spacingAndGlyphs">IL23R-/- TIM-1+</text>
<text transform="translate(347,1171.8)" font-family='"Liberation Sans", Arial, sans-serif' font-size="13.2" text-anchor="middle" font-weight="bold" fill="#000" textLength="58.7" lengthAdjust="spacingAndGlyphs">wt TIM-4+</text>
<text transform="translate(446.8,1171.8)" font-family='"Liberation Sans", Arial, sans-serif' font-size="13.2" text-anchor="middle" font-weight="bold" fill="#000" textLength="88.8" lengthAdjust="spacingAndGlyphs">IL23R-/- TIM-4+</text>
<text x="108.15" y="1197.75" font-family='"Liberation Sans", Arial, sans-serif' font-size="13" text-anchor="middle" stroke="#000" stroke-width="0.35">+</text>
<text x="133.25" y="1197.75" font-family='"Liberation Sans", Arial, sans-serif' font-size="13" text-anchor="middle" stroke="#000" stroke-width="0.35">+</text>
<text x="158.4" y="1197.75" font-family='"Liberation Sans", Arial, sans-serif' font-size="13" text-anchor="middle" stroke="#000" stroke-width="0.35">+</text>
<text x="183.7" y="1197.75" font-family='"Liberation Sans", Arial, sans-serif' font-size="13" text-anchor="middle" stroke="#000" stroke-width="0.35">+</text>
<text x="209" y="1197.75" font-family='"Liberation Sans", Arial, sans-serif' font-size="13" text-anchor="middle" stroke="#000" stroke-width="0.35">+</text>
<text x="234.15" y="1197.75" font-family='"Liberation Sans", Arial, sans-serif' font-size="13" text-anchor="middle" stroke="#000" stroke-width="0.35">+</text>
<text x="258.3" y="1197.75" font-family='"Liberation Sans", Arial, sans-serif' font-size="13" text-anchor="middle" stroke="#000" stroke-width="0.35">+</text>
<text x="306.5" y="1197.75" font-family='"Liberation Sans", Arial, sans-serif' font-size="13" text-anchor="middle" stroke="#000" stroke-width="0.35">+</text>
<text x="331.5" y="1197.75" font-family='"Liberation Sans", Arial, sans-serif' font-size="13" text-anchor="middle" stroke="#000" stroke-width="0.35">+</text>
<text x="356.1" y="1197.75" font-family='"Liberation Sans", Arial, sans-serif' font-size="13" text-anchor="middle" stroke="#000" stroke-width="0.35">+</text>
<text x="380.85" y="1197.75" font-family='"Liberation Sans", Arial, sans-serif' font-size="13" text-anchor="middle" stroke="#000" stroke-width="0.35">+</text>
<text x="405.5" y="1197.75" font-family='"Liberation Sans", Arial, sans-serif' font-size="13" text-anchor="middle" stroke="#000" stroke-width="0.35">+</text>
<text x="430" y="1197.75" font-family='"Liberation Sans", Arial, sans-serif' font-size="13" text-anchor="middle" stroke="#000" stroke-width="0.35">+</text>
<text x="454.8" y="1197.75" font-family='"Liberation Sans", Arial, sans-serif' font-size="13" text-anchor="middle" stroke="#000" stroke-width="0.35">+</text>
<text x="479.4" y="1197.75" font-family='"Liberation Sans", Arial, sans-serif' font-size="13" text-anchor="middle" stroke="#000" stroke-width="0.35">+</text>
<text x="133.25" y="1222.55" font-family='"Liberation Sans", Arial, sans-serif' font-size="13" text-anchor="middle" stroke="#000" stroke-width="0.35">+</text>
<text x="234.15" y="1222.55" font-family='"Liberation Sans", Arial, sans-serif' font-size="13" text-anchor="middle" stroke="#000" stroke-width="0.35">+</text>
<text x="331.5" y="1222.55" font-family='"Liberation Sans", Arial, sans-serif' font-size="13" text-anchor="middle" stroke="#000" stroke-width="0.35">+</text>
<text x="430" y="1222.55" font-family='"Liberation Sans", Arial, sans-serif' font-size="13" text-anchor="middle" stroke="#000" stroke-width="0.35">+</text>
<text x="158.4" y="1247.35" font-family='"Liberation Sans", Arial, sans-serif' font-size="13" text-anchor="middle" stroke="#000" stroke-width="0.35">+</text>
<text x="183.7" y="1247.35" font-family='"Liberation Sans", Arial, sans-serif' font-size="13" text-anchor="middle" stroke="#000" stroke-width="0.35">+</text>
<text x="258.3" y="1247.35" font-family='"Liberation Sans", Arial, sans-serif' font-size="13" text-anchor="middle" stroke="#000" stroke-width="0.35">+</text>
<text x="281.9" y="1247.35" font-family='"Liberation Sans", Arial, sans-serif' font-size="13" text-anchor="middle" stroke="#000" stroke-width="0.35">+</text>
<text x="356.1" y="1247.35" font-family='"Liberation Sans", Arial, sans-serif' font-size="13" text-anchor="middle" stroke="#000" stroke-width="0.35">+</text>
<text x="380.85" y="1247.35" font-family='"Liberation Sans", Arial, sans-serif' font-size="13" text-anchor="middle" stroke="#000" stroke-width="0.35">+</text>
<text x="454.8" y="1247.35" font-family='"Liberation Sans", Arial, sans-serif' font-size="13" text-anchor="middle" stroke="#000" stroke-width="0.35">+</text>
<text x="479.4" y="1247.35" font-family='"Liberation Sans", Arial, sans-serif' font-size="13" text-anchor="middle" stroke="#000" stroke-width="0.35">+</text>
<text x="183.7" y="1272.15" font-family='"Liberation Sans", Arial, sans-serif' font-size="13" text-anchor="middle" stroke="#000" stroke-width="0.35">+</text>
<text x="281.9" y="1272.15" font-family='"Liberation Sans", Arial, sans-serif' font-size="13" text-anchor="middle" stroke="#000" stroke-width="0.35">+</text>
<text x="380.85" y="1272.15" font-family='"Liberation Sans", Arial, sans-serif' font-size="13" text-anchor="middle" stroke="#000" stroke-width="0.35">+</text>
<text x="479.4" y="1272.15" font-family='"Liberation Sans", Arial, sans-serif' font-size="13" text-anchor="middle" stroke="#000" stroke-width="0.35">+</text>
</g>
<g id="panelE">
<defs>
<pattern id="dg" width="3" height="3" patternUnits="userSpaceOnUse"><rect width="3" height="3" fill="#fff"/><rect x="1" y="1" width="1" height="1" fill="#3fd03f" opacity="0.5"/></pattern>
<pattern id="dr" width="3" height="3" patternUnits="userSpaceOnUse"><rect width="3" height="3" fill="#fff"/><rect x="1" y="1" width="1" height="1" fill="#ff3030" opacity="0.5"/></pattern>
</defs>
<text transform="translate(527.6,927.2) scale(0.8,1)" font-family='"Liberation Sans", Arial, sans-serif' font-size="30.7" text-anchor="start" font-weight="bold" fill="#000">E</text>
<text transform="translate(549.9,1094.6) rotate(-90)" font-family='"Liberation Sans", Arial, sans-serif' font-size="20.8" text-anchor="middle" font-weight="bold" fill="#000" textLength="67.5" lengthAdjust="spacingAndGlyphs">% IL-10</text>
<line x1="577.4" y1="976.4" x2="577.4" y2="1202.5" stroke="#000" stroke-width="2" />
<line x1="572" y1="1201.5" x2="726" y2="1201.5" stroke="#000" stroke-width="2" />
<line x1="571.7" y1="1201.5" x2="577.4" y2="1201.5" stroke="#000" stroke-width="1.7" />
<text transform="translate(570.2,1210) scale(0.78,1)" font-family='"Liberation Sans", Arial, sans-serif' font-size="21" text-anchor="end" font-weight="bold" fill="#000">0</text>
<line x1="571.7" y1="1156.66" x2="577.4" y2="1156.66" stroke="#000" stroke-width="1.7" />
<text transform="translate(570.2,1165.16) scale(0.78,1)" font-family='"Liberation Sans", Arial, sans-serif' font-size="21" text-anchor="end" font-weight="bold" fill="#000">1</text>
<line x1="571.7" y1="1111.82" x2="577.4" y2="1111.82" stroke="#000" stroke-width="1.7" />
<text transform="translate(570.2,1120.32) scale(0.78,1)" font-family='"Liberation Sans", Arial, sans-serif' font-size="21" text-anchor="end" font-weight="bold" fill="#000">2</text>
<line x1="571.7" y1="1066.98" x2="577.4" y2="1066.98" stroke="#000" stroke-width="1.7" />
<text transform="translate(570.2,1075.48) scale(0.78,1)" font-family='"Liberation Sans", Arial, sans-serif' font-size="21" text-anchor="end" font-weight="bold" fill="#000">3</text>
<line x1="571.7" y1="1022.14" x2="577.4" y2="1022.14" stroke="#000" stroke-width="1.7" />
<text transform="translate(570.2,1030.64) scale(0.78,1)" font-family='"Liberation Sans", Arial, sans-serif' font-size="21" text-anchor="end" font-weight="bold" fill="#000">4</text>
<line x1="571.7" y1="977.3" x2="577.4" y2="977.3" stroke="#000" stroke-width="1.7" />
<text transform="translate(570.2,985.8) scale(0.78,1)" font-family='"Liberation Sans", Arial, sans-serif' font-size="21" text-anchor="end" font-weight="bold" fill="#000">5</text>
<line x1="613.1" y1="1201.5" x2="613.1" y2="1208.2" stroke="#000" stroke-width="1.7" />
<line x1="688.2" y1="1201.5" x2="688.2" y2="1208.2" stroke="#000" stroke-width="1.7" />
<path d="M613.1 1056.2 C612.9 1056.2 612.87 1059.45 612.5 1061 C612.13 1062.55 611.93 1063.87 610.9 1065.5 C609.87 1067.13 607.9 1069.03 606.3 1070.8 C604.7 1072.57 602.53 1074.5 601.3 1076.1 C600.07 1077.7 600.35 1078.97 598.9 1080.4 C597.45 1081.83 594.78 1083.45 592.6 1084.7 C590.42 1085.95 585.72 1086.65 585.8 1087.9 C585.88 1089.15 590.13 1090.77 593.1 1092.2 C596.07 1093.63 601.47 1095.07 603.6 1096.5 C605.73 1097.93 606.23 1099.02 605.9 1100.8 C605.57 1102.58 601.6 1105.05 601.6 1107.2 C601.6 1109.35 604.4 1111.73 605.9 1113.7 C607.4 1115.67 609.52 1117.53 610.6 1119 C611.68 1120.47 611.98 1121.42 612.4 1122.5 C612.82 1123.58 612.87 1125.5 613.1 1125.5 C613.33 1125.5 613.38 1123.58 613.8 1122.5 C614.22 1121.42 614.52 1120.47 615.6 1119 C616.68 1117.53 618.8 1115.67 620.3 1113.7 C621.8 1111.73 624.6 1109.35 624.6 1107.2 C624.6 1105.05 620.63 1102.58 620.3 1100.8 C619.97 1099.02 620.47 1097.93 622.6 1096.5 C624.73 1095.07 630.13 1093.63 633.1 1092.2 C636.07 1090.77 640.32 1089.15 640.4 1087.9 C640.48 1086.65 635.78 1085.95 633.6 1084.7 C631.42 1083.45 628.75 1081.83 627.3 1080.4 C625.85 1078.97 626.13 1077.7 624.9 1076.1 C623.67 1074.5 621.5 1072.57 619.9 1070.8 C618.3 1069.03 616.33 1067.13 615.3 1065.5 C614.27 1063.87 614.07 1062.55 613.7 1061 C613.33 1059.45 613.3 1056.2 613.1 1056.2Z" fill="url(#dg)" stroke="#1fc71f" stroke-width="2.2" stroke-linejoin="round"/>
<path d="M687.9 1008.6 C687.7 1008.6 687.67 1012.27 687.3 1014 C686.93 1015.73 686.77 1017.4 685.7 1019 C684.63 1020.6 683.87 1021.77 680.9 1023.6 C677.93 1025.43 670.98 1028.27 667.9 1030 C664.82 1031.73 663.67 1032.57 662.4 1034 C661.13 1035.43 660.3 1037.1 660.3 1038.6 C660.3 1040.1 661.3 1041.75 662.4 1043 C663.5 1044.25 664.57 1044.52 666.9 1046.1 C669.23 1047.68 674.48 1050.18 676.4 1052.5 C678.32 1054.82 678.12 1057.42 678.4 1060 C678.68 1062.58 678.3 1065.5 678.1 1068 C677.9 1070.5 677.38 1072.83 677.2 1075 C677.02 1077.17 676.92 1079.2 677 1081 C677.08 1082.8 676.93 1083.57 677.7 1085.8 C678.47 1088.03 680.23 1091.53 681.6 1094.4 C682.97 1097.27 684.97 1100.73 685.9 1103 C686.83 1105.27 686.87 1106.3 687.2 1108 C687.53 1109.7 687.67 1113.2 687.9 1113.2 C688.13 1113.2 688.27 1109.7 688.6 1108 C688.93 1106.3 688.97 1105.27 689.9 1103 C690.83 1100.73 692.83 1097.27 694.2 1094.4 C695.57 1091.53 697.33 1088.03 698.1 1085.8 C698.87 1083.57 698.72 1082.8 698.8 1081 C698.88 1079.2 698.78 1077.17 698.6 1075 C698.42 1072.83 697.9 1070.5 697.7 1068 C697.5 1065.5 697.12 1062.58 697.4 1060 C697.68 1057.42 697.48 1054.82 699.4 1052.5 C701.32 1050.18 706.57 1047.68 708.9 1046.1 C711.23 1044.52 712.3 1044.25 713.4 1043 C714.5 1041.75 715.5 1040.1 715.5 1038.6 C715.5 1037.1 714.67 1035.43 713.4 1034 C712.13 1032.57 710.98 1031.73 707.9 1030 C704.82 1028.27 697.87 1025.43 694.9 1023.6 C691.93 1021.77 691.17 1020.6 690.1 1019 C689.03 1017.4 688.87 1015.73 688.5 1014 C688.13 1012.27 688.1 1008.6 687.9 1008.6Z" fill="url(#dr)" stroke="#ff1a1a" stroke-width="2.2" stroke-linejoin="round"/>
<line x1="588" y1="1089.5" x2="638.5" y2="1089.5" stroke="#000" stroke-width="1" stroke-dasharray="2.6 1.3"/>
<line x1="604" y1="1079.5" x2="622.5" y2="1079.5" stroke="#000" stroke-width="1" stroke-dasharray="2.6 1.3"/>
<line x1="607" y1="1099.5" x2="619.5" y2="1099.5" stroke="#000" stroke-width="1" stroke-dasharray="2.6 1.3"/>
<line x1="663" y1="1037.5" x2="713" y2="1037.5" stroke="#000" stroke-width="1" stroke-dasharray="2.6 1.3"/>
<line x1="666" y1="1043.5" x2="710" y2="1043.5" stroke="#000" stroke-width="1" stroke-dasharray="2.6 1.3"/>
<line x1="678.5" y1="1075.5" x2="697.5" y2="1075.5" stroke="#000" stroke-width="1" stroke-dasharray="2.6 1.3"/>
<ellipse cx="613.1" cy="1073.6" rx="4" ry="5.1" fill="#000" stroke="none" stroke-width="0"/>
<ellipse cx="600.4" cy="1083.6" rx="4" ry="5.1" fill="#000" stroke="none" stroke-width="0"/>
<ellipse cx="613.1" cy="1089.8" rx="4" ry="5.1" fill="#000" stroke="none" stroke-width="0"/>
<ellipse cx="626.1" cy="1089.8" rx="4" ry="5.1" fill="#000" stroke="none" stroke-width="0"/>
<ellipse cx="613.1" cy="1108.5" rx="4" ry="5.1" fill="#000" stroke="none" stroke-width="0"/>
<ellipse cx="674.7" cy="1037.5" rx="4" ry="5.1" fill="#000" stroke="none" stroke-width="0"/>
<ellipse cx="701.1" cy="1037.5" rx="4" ry="5.1" fill="#000" stroke="none" stroke-width="0"/>
<ellipse cx="687.9" cy="1043.2" rx="4" ry="5.1" fill="#000" stroke="none" stroke-width="0"/>
<ellipse cx="687.9" cy="1066.2" rx="4" ry="5.1" fill="#000" stroke="none" stroke-width="0"/>
<ellipse cx="687.9" cy="1085.3" rx="4" ry="5.1" fill="#000" stroke="none" stroke-width="0"/>
<text transform="translate(666,1000)" font-family='"Liberation Sans", Arial, sans-serif' font-size="18" text-anchor="start" font-weight="normal" fill="#000" textLength="78.8" lengthAdjust="spacingAndGlyphs">* p=0.012</text>
<text transform="translate(613.3,1237.2)" font-family='"Liberation Sans", Arial, sans-serif' font-size="18" text-anchor="middle" font-weight="bold" fill="#000" textLength="30.3" lengthAdjust="spacingAndGlyphs">Cre</text>
<text transform="translate(615.6,1265)" font-family='"Liberation Sans", Arial, sans-serif' font-size="18" text-anchor="middle" font-weight="bold" fill="#000" textLength="44.8" lengthAdjust="spacingAndGlyphs">Cont</text>
<text transform="translate(696.3,1237.2)" font-family='"Liberation Sans", Arial, sans-serif' font-size="18" text-anchor="middle" font-weight="bold" fill="#000" textLength="71.4" lengthAdjust="spacingAndGlyphs">IL-17RC</text>
<text transform="translate(699,1265)" font-family='"Liberation Sans", Arial, sans-serif' font-size="18" text-anchor="middle" font-weight="bold" fill="#000" textLength="38.8" lengthAdjust="spacingAndGlyphs">BKO</text>
</g>
</svg>
</body></html>
